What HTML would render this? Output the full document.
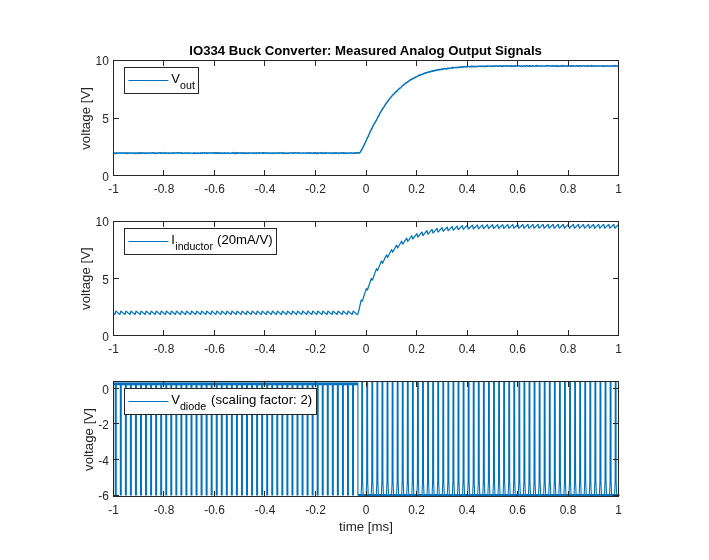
<!DOCTYPE html>
<html><head><meta charset="utf-8"><title>IO334 Buck Converter: Measured Analog Output Signals</title>
<style>html,body{margin:0;padding:0;background:#fff;}svg{display:block;}</style></head>
<body>
<svg width="709" height="560" viewBox="0 0 709 560" font-family="'Liberation Sans', sans-serif">
<rect x="0" y="0" width="709" height="560" fill="#ffffff"/>
<path d="M113.50 152.70 L113.86 153.55 L114.22 153.00 L114.58 153.18 L114.94 153.16 L115.30 153.11 L115.67 153.45 L116.03 153.12 L116.39 153.23 L116.75 152.46 L117.11 153.03 L117.47 153.14 L117.83 153.13 L118.19 153.20 L118.55 153.27 L118.91 153.15 L119.28 152.99 L119.64 153.12 L120.00 152.90 L120.36 153.11 L120.72 153.07 L121.08 152.79 L121.44 152.97 L121.80 153.17 L122.16 153.11 L122.52 152.98 L122.89 152.72 L123.25 153.12 L123.61 153.12 L123.97 152.89 L124.33 153.24 L124.69 153.13 L125.05 152.91 L125.41 152.97 L125.77 153.06 L126.13 152.95 L126.49 153.60 L126.86 152.89 L127.22 153.25 L127.58 153.38 L127.94 153.02 L128.30 152.95 L128.66 153.16 L129.02 153.27 L129.38 153.07 L129.74 153.08 L130.10 152.82 L130.47 152.94 L130.83 153.04 L131.19 152.87 L131.55 153.11 L131.91 153.25 L132.27 152.97 L132.63 152.97 L132.99 153.11 L133.35 153.22 L133.71 153.03 L134.08 153.53 L134.44 152.95 L134.80 152.98 L135.16 153.38 L135.52 153.06 L135.88 153.25 L136.24 152.94 L136.60 153.45 L136.96 153.24 L137.32 152.94 L137.69 152.86 L138.05 153.47 L138.41 153.17 L138.77 153.01 L139.13 153.19 L139.49 152.78 L139.85 153.29 L140.21 153.01 L140.57 153.27 L140.93 152.82 L141.29 153.08 L141.66 153.14 L142.02 153.39 L142.38 152.77 L142.74 152.94 L143.10 152.94 L143.46 152.87 L143.82 153.01 L144.18 153.19 L144.54 153.22 L144.90 153.22 L145.27 152.82 L145.63 153.34 L145.99 153.18 L146.35 153.13 L146.71 153.03 L147.07 152.97 L147.43 153.30 L147.79 153.39 L148.15 153.08 L148.51 152.85 L148.88 152.94 L149.24 153.04 L149.60 153.13 L149.96 153.02 L150.32 153.12 L150.68 152.92 L151.04 153.22 L151.40 153.05 L151.76 153.10 L152.12 152.98 L152.48 153.03 L152.85 152.61 L153.21 152.80 L153.57 152.80 L153.93 153.45 L154.29 153.14 L154.65 153.19 L155.01 152.98 L155.37 153.49 L155.73 152.86 L156.09 152.88 L156.46 153.31 L156.82 153.26 L157.18 153.22 L157.54 153.07 L157.90 152.96 L158.26 152.70 L158.62 153.11 L158.98 152.93 L159.34 153.05 L159.70 152.75 L160.07 152.94 L160.43 152.82 L160.79 153.27 L161.15 153.11 L161.51 153.22 L161.87 152.80 L162.23 152.95 L162.59 153.13 L162.95 153.16 L163.31 152.99 L163.68 153.20 L164.04 153.25 L164.40 152.99 L164.76 152.62 L165.12 153.12 L165.48 153.18 L165.84 153.29 L166.20 153.32 L166.56 152.98 L166.92 152.92 L167.28 153.07 L167.65 153.01 L168.01 153.05 L168.37 153.05 L168.73 153.36 L169.09 153.16 L169.45 153.05 L169.81 153.22 L170.17 153.16 L170.53 153.23 L170.89 153.14 L171.26 152.92 L171.62 153.15 L171.98 153.10 L172.34 152.93 L172.70 152.96 L173.06 152.76 L173.42 153.46 L173.78 152.92 L174.14 153.16 L174.50 153.05 L174.87 152.92 L175.23 152.88 L175.59 152.88 L175.95 153.05 L176.31 152.78 L176.67 153.13 L177.03 153.10 L177.39 152.93 L177.75 153.18 L178.11 152.68 L178.47 152.89 L178.84 152.67 L179.20 153.08 L179.56 153.15 L179.92 153.04 L180.28 152.94 L180.64 153.18 L181.00 153.01 L181.36 153.08 L181.72 152.78 L182.08 153.20 L182.45 152.88 L182.81 153.19 L183.17 153.25 L183.53 153.21 L183.89 153.29 L184.25 153.05 L184.61 152.89 L184.97 153.04 L185.33 152.96 L185.69 152.77 L186.06 153.03 L186.42 153.04 L186.78 153.13 L187.14 153.37 L187.50 152.94 L187.86 153.40 L188.22 152.95 L188.58 153.08 L188.94 152.87 L189.30 153.09 L189.67 153.23 L190.03 153.01 L190.39 153.18 L190.75 153.11 L191.11 153.07 L191.47 153.10 L191.83 153.11 L192.19 153.23 L192.55 153.11 L192.91 153.47 L193.27 153.10 L193.64 153.30 L194.00 152.87 L194.36 152.84 L194.72 153.43 L195.08 153.05 L195.44 153.10 L195.80 153.27 L196.16 152.98 L196.52 153.16 L196.88 153.40 L197.25 153.12 L197.61 153.10 L197.97 153.06 L198.33 153.30 L198.69 152.96 L199.05 152.94 L199.41 153.29 L199.77 153.20 L200.13 153.09 L200.49 153.18 L200.86 152.75 L201.22 153.04 L201.58 153.26 L201.94 153.22 L202.30 153.09 L202.66 152.65 L203.02 153.11 L203.38 153.05 L203.74 152.98 L204.10 153.08 L204.46 152.66 L204.83 153.17 L205.19 152.94 L205.55 153.05 L205.91 152.96 L206.27 153.29 L206.63 152.75 L206.99 153.10 L207.35 153.07 L207.71 153.25 L208.07 153.21 L208.44 152.97 L208.80 152.89 L209.16 152.94 L209.52 152.85 L209.88 152.94 L210.24 153.07 L210.60 152.92 L210.96 152.97 L211.32 153.09 L211.68 152.94 L212.05 152.84 L212.41 153.03 L212.77 153.14 L213.13 152.94 L213.49 152.73 L213.85 153.11 L214.21 153.09 L214.57 153.10 L214.93 152.85 L215.29 153.41 L215.66 153.01 L216.02 152.86 L216.38 153.22 L216.74 152.80 L217.10 152.98 L217.46 153.18 L217.82 153.04 L218.18 153.36 L218.54 153.18 L218.90 152.74 L219.26 153.24 L219.63 152.74 L219.99 153.09 L220.35 152.89 L220.71 153.07 L221.07 153.49 L221.43 153.18 L221.79 153.04 L222.15 153.29 L222.51 153.32 L222.87 153.01 L223.24 153.19 L223.60 153.39 L223.96 153.20 L224.32 152.92 L224.68 153.16 L225.04 152.90 L225.40 152.79 L225.76 153.07 L226.12 153.28 L226.48 153.31 L226.85 153.08 L227.21 152.91 L227.57 153.03 L227.93 152.97 L228.29 153.16 L228.65 153.02 L229.01 153.16 L229.37 153.13 L229.73 153.31 L230.09 153.36 L230.45 153.16 L230.82 153.28 L231.18 153.25 L231.54 152.95 L231.90 153.09 L232.26 152.54 L232.62 152.90 L232.98 153.19 L233.34 152.93 L233.70 153.01 L234.06 153.20 L234.43 152.87 L234.79 153.22 L235.15 153.64 L235.51 152.93 L235.87 153.19 L236.23 152.80 L236.59 153.19 L236.95 153.29 L237.31 152.79 L237.67 153.27 L238.04 153.04 L238.40 152.81 L238.76 153.05 L239.12 153.09 L239.48 153.06 L239.84 152.92 L240.20 153.22 L240.56 152.96 L240.92 152.97 L241.28 152.65 L241.65 153.14 L242.01 153.24 L242.37 152.94 L242.73 153.15 L243.09 153.02 L243.45 153.05 L243.81 152.86 L244.17 153.20 L244.53 153.09 L244.89 153.54 L245.25 153.24 L245.62 152.79 L245.98 153.20 L246.34 153.20 L246.70 153.30 L247.06 152.97 L247.42 153.04 L247.78 153.29 L248.14 152.95 L248.50 153.03 L248.86 152.94 L249.23 153.19 L249.59 152.76 L249.95 153.00 L250.31 153.10 L250.67 153.17 L251.03 153.12 L251.39 152.92 L251.75 153.12 L252.11 152.88 L252.47 152.97 L252.84 152.83 L253.20 152.93 L253.56 153.09 L253.92 153.43 L254.28 153.02 L254.64 152.93 L255.00 153.05 L255.36 152.97 L255.72 153.16 L256.08 153.15 L256.44 153.25 L256.81 152.82 L257.17 153.05 L257.53 153.17 L257.89 153.32 L258.25 153.10 L258.61 152.81 L258.97 152.99 L259.33 153.21 L259.69 152.81 L260.05 152.81 L260.42 152.89 L260.78 152.93 L261.14 152.86 L261.50 152.98 L261.86 152.93 L262.22 153.22 L262.58 152.80 L262.94 153.03 L263.30 152.70 L263.66 153.45 L264.03 152.95 L264.39 152.89 L264.75 153.14 L265.11 152.99 L265.47 152.94 L265.83 152.97 L266.19 153.17 L266.55 153.10 L266.91 152.89 L267.27 152.84 L267.64 153.06 L268.00 153.06 L268.36 153.04 L268.72 152.88 L269.08 153.27 L269.44 153.32 L269.80 153.05 L270.16 153.28 L270.52 153.18 L270.88 153.06 L271.24 152.99 L271.61 153.27 L271.97 152.93 L272.33 153.40 L272.69 152.97 L273.05 153.37 L273.41 153.31 L273.77 152.96 L274.13 153.15 L274.49 153.22 L274.85 153.16 L275.22 152.99 L275.58 153.08 L275.94 153.08 L276.30 152.88 L276.66 153.21 L277.02 153.16 L277.38 153.17 L277.74 152.86 L278.10 152.89 L278.46 152.84 L278.83 153.08 L279.19 153.10 L279.55 152.92 L279.91 153.15 L280.27 152.92 L280.63 152.94 L280.99 153.20 L281.35 153.09 L281.71 153.10 L282.07 152.76 L282.43 152.60 L282.80 153.09 L283.16 153.07 L283.52 153.49 L283.88 153.04 L284.24 153.08 L284.60 153.27 L284.96 152.93 L285.32 153.36 L285.68 153.11 L286.04 153.05 L286.41 153.30 L286.77 152.92 L287.13 152.88 L287.49 153.33 L287.85 153.33 L288.21 152.96 L288.57 153.08 L288.93 153.30 L289.29 153.13 L289.65 153.09 L290.02 153.10 L290.38 152.92 L290.74 153.00 L291.10 152.75 L291.46 152.82 L291.82 152.95 L292.18 152.88 L292.54 152.83 L292.90 152.95 L293.26 153.30 L293.63 152.92 L293.99 153.06 L294.35 152.78 L294.71 153.06 L295.07 152.98 L295.43 153.01 L295.79 152.77 L296.15 153.04 L296.51 153.12 L296.87 153.02 L297.23 153.16 L297.60 153.05 L297.96 153.08 L298.32 153.03 L298.68 152.72 L299.04 153.15 L299.40 153.07 L299.76 153.11 L300.12 152.95 L300.48 153.29 L300.84 153.20 L301.21 153.08 L301.57 152.97 L301.93 153.08 L302.29 153.17 L302.65 153.23 L303.01 152.98 L303.37 152.81 L303.73 153.02 L304.09 153.04 L304.45 152.99 L304.82 153.25 L305.18 153.13 L305.54 153.12 L305.90 153.02 L306.26 153.08 L306.62 153.30 L306.98 152.87 L307.34 152.76 L307.70 153.12 L308.06 153.00 L308.42 153.03 L308.79 152.93 L309.15 153.35 L309.51 152.78 L309.87 153.16 L310.23 152.84 L310.59 153.06 L310.95 153.15 L311.31 153.10 L311.67 152.91 L312.03 153.23 L312.40 153.14 L312.76 153.16 L313.12 153.39 L313.48 152.84 L313.84 152.97 L314.20 153.08 L314.56 152.86 L314.92 153.25 L315.28 153.09 L315.64 152.76 L316.01 152.89 L316.37 153.48 L316.73 153.69 L317.09 153.27 L317.45 152.88 L317.81 153.16 L318.17 153.12 L318.53 152.96 L318.89 153.24 L319.25 153.04 L319.62 152.93 L319.98 152.99 L320.34 153.00 L320.70 153.19 L321.06 152.98 L321.42 153.15 L321.78 152.83 L322.14 152.60 L322.50 153.21 L322.86 153.48 L323.22 153.15 L323.59 153.01 L323.95 152.88 L324.31 152.88 L324.67 153.22 L325.03 153.22 L325.39 152.84 L325.75 153.28 L326.11 152.87 L326.47 153.12 L326.83 152.93 L327.20 152.95 L327.56 152.93 L327.92 152.92 L328.28 153.26 L328.64 153.02 L329.00 153.07 L329.36 153.02 L329.72 152.85 L330.08 153.12 L330.44 153.21 L330.81 153.21 L331.17 153.13 L331.53 152.94 L331.89 153.22 L332.25 152.86 L332.61 153.02 L332.97 153.12 L333.33 153.32 L333.69 153.03 L334.05 152.95 L334.41 153.40 L334.78 152.86 L335.14 152.77 L335.50 153.01 L335.86 152.98 L336.22 152.63 L336.58 152.85 L336.94 153.24 L337.30 153.08 L337.66 153.10 L338.02 153.10 L338.39 153.51 L338.75 152.94 L339.11 153.19 L339.47 153.04 L339.83 153.10 L340.19 152.91 L340.55 153.13 L340.91 153.22 L341.27 152.98 L341.63 152.82 L342.00 153.13 L342.36 152.82 L342.72 153.03 L343.08 153.17 L343.44 152.79 L343.80 153.23 L344.16 152.89 L344.52 153.17 L344.88 152.99 L345.24 153.30 L345.61 153.23 L345.97 152.88 L346.33 153.04 L346.69 153.07 L347.05 153.16 L347.41 152.99 L347.77 153.33 L348.13 153.28 L348.49 153.10 L348.85 153.23 L349.21 153.20 L349.58 153.09 L349.94 153.10 L350.30 153.12 L350.66 152.77 L351.02 152.89 L351.38 152.85 L351.74 153.08 L352.10 153.17 L352.46 153.34 L352.82 153.14 L353.19 153.46 L353.55 153.18 L353.91 152.93 L354.27 152.78 L354.63 152.90 L354.99 153.23 L355.35 152.98 L355.71 153.22 L356.07 152.92 L356.43 153.10 L356.80 152.92 L357.16 152.60 L357.52 152.91 L357.88 152.65 L358.24 153.04 L358.60 153.14 L358.96 152.83 L359.32 152.74 L359.68 152.91 L360.04 152.33 L360.40 152.02 L360.77 151.18 L361.13 150.42 L361.49 150.03 L361.85 149.51 L362.21 149.02 L362.57 148.02 L362.93 147.26 L363.29 146.61 L363.65 145.95 L364.01 145.50 L364.38 144.18 L364.74 143.74 L365.10 142.97 L365.46 142.01 L365.82 141.75 L366.18 140.56 L366.54 139.77 L366.90 138.88 L367.26 137.92 L367.62 137.30 L367.99 136.94 L368.35 135.87 L368.71 134.97 L369.07 134.18 L369.43 133.65 L369.79 132.92 L370.15 131.73 L370.51 130.99 L370.87 130.29 L371.23 129.85 L371.60 128.48 L371.96 128.62 L372.32 127.46 L372.68 126.32 L373.04 126.06 L373.40 125.32 L373.76 124.93 L374.12 123.81 L374.48 123.65 L374.84 122.72 L375.20 122.10 L375.57 121.68 L375.93 120.67 L376.29 120.45 L376.65 119.66 L377.01 118.87 L377.37 118.27 L377.73 117.43 L378.09 116.66 L378.45 116.20 L378.81 115.55 L379.18 114.86 L379.54 114.16 L379.90 113.27 L380.26 112.80 L380.62 112.03 L380.98 111.49 L381.34 111.01 L381.70 110.10 L382.06 109.86 L382.42 109.08 L382.79 108.24 L383.15 108.14 L383.51 107.39 L383.87 107.12 L384.23 106.38 L384.59 106.02 L384.95 105.28 L385.31 104.78 L385.67 104.13 L386.03 103.35 L386.39 103.08 L386.76 102.50 L387.12 102.13 L387.48 101.66 L387.84 101.27 L388.20 100.96 L388.56 100.12 L388.92 99.35 L389.28 99.08 L389.64 98.79 L390.00 97.93 L390.37 97.85 L390.73 97.43 L391.09 97.10 L391.45 96.63 L391.81 96.07 L392.17 95.25 L392.53 95.26 L392.89 95.03 L393.25 94.57 L393.61 94.13 L393.98 94.05 L394.34 93.35 L394.70 92.90 L395.06 92.62 L395.42 92.23 L395.78 92.24 L396.14 91.97 L396.50 91.08 L396.86 90.78 L397.22 90.92 L397.59 90.25 L397.95 89.94 L398.31 89.50 L398.67 89.22 L399.03 89.01 L399.39 88.54 L399.75 88.21 L400.11 87.92 L400.47 87.92 L400.83 87.80 L401.19 87.08 L401.56 86.92 L401.92 86.26 L402.28 85.87 L402.64 85.65 L403.00 85.47 L403.36 85.09 L403.72 84.59 L404.08 84.65 L404.44 84.06 L404.80 83.81 L405.17 83.61 L405.53 83.11 L405.89 83.24 L406.25 82.66 L406.61 82.74 L406.97 82.45 L407.33 82.25 L407.69 81.73 L408.05 81.74 L408.41 81.32 L408.78 81.30 L409.14 80.66 L409.50 80.28 L409.86 80.35 L410.22 79.86 L410.58 79.83 L410.94 79.31 L411.30 79.47 L411.66 79.56 L412.02 78.78 L412.38 78.87 L412.75 78.83 L413.11 78.55 L413.47 78.53 L413.83 78.06 L414.19 78.03 L414.55 77.36 L414.91 77.32 L415.27 77.56 L415.63 77.35 L415.99 77.00 L416.36 77.07 L416.72 76.57 L417.08 76.38 L417.44 76.35 L417.80 76.14 L418.16 75.78 L418.52 75.45 L418.88 75.28 L419.24 75.39 L419.60 75.08 L419.97 75.22 L420.33 74.86 L420.69 74.97 L421.05 74.51 L421.41 74.73 L421.77 74.54 L422.13 74.22 L422.49 73.98 L422.85 74.21 L423.21 73.92 L423.58 73.66 L423.94 73.52 L424.30 73.59 L424.66 73.30 L425.02 73.24 L425.38 72.82 L425.74 72.86 L426.10 73.09 L426.46 73.14 L426.82 72.60 L427.18 72.29 L427.55 72.36 L427.91 72.13 L428.27 72.27 L428.63 72.33 L428.99 71.83 L429.35 71.85 L429.71 71.64 L430.07 71.92 L430.43 71.54 L430.79 71.59 L431.16 71.24 L431.52 71.40 L431.88 71.31 L432.24 71.22 L432.60 70.80 L432.96 70.94 L433.32 71.00 L433.68 70.97 L434.04 70.90 L434.40 70.36 L434.77 70.88 L435.13 70.63 L435.49 70.28 L435.85 70.11 L436.21 70.28 L436.57 70.04 L436.93 69.98 L437.29 69.87 L437.65 69.97 L438.01 69.61 L438.37 69.81 L438.74 69.50 L439.10 69.92 L439.46 69.48 L439.82 69.82 L440.18 69.80 L440.54 69.37 L440.90 69.56 L441.26 69.26 L441.62 69.48 L441.98 68.94 L442.35 69.17 L442.71 69.33 L443.07 69.03 L443.43 68.85 L443.79 69.10 L444.15 68.81 L444.51 68.48 L444.87 68.64 L445.23 68.76 L445.59 68.81 L445.96 68.55 L446.32 68.89 L446.68 69.12 L447.04 68.64 L447.40 68.67 L447.76 68.10 L448.12 68.35 L448.48 68.51 L448.84 68.50 L449.20 68.15 L449.57 68.36 L449.93 68.27 L450.29 68.14 L450.65 68.06 L451.01 68.02 L451.37 67.98 L451.73 67.72 L452.09 67.61 L452.45 68.19 L452.81 67.37 L453.17 67.78 L453.54 67.54 L453.90 67.87 L454.26 67.64 L454.62 67.62 L454.98 67.61 L455.34 67.44 L455.70 67.45 L456.06 67.72 L456.42 67.52 L456.78 67.33 L457.15 67.31 L457.51 67.47 L457.87 67.43 L458.23 67.37 L458.59 67.52 L458.95 67.52 L459.31 66.96 L459.67 67.29 L460.03 67.17 L460.39 67.30 L460.76 66.90 L461.12 66.78 L461.48 67.12 L461.84 66.96 L462.20 67.16 L462.56 66.67 L462.92 66.80 L463.28 67.10 L463.64 66.69 L464.00 66.83 L464.36 66.80 L464.73 66.79 L465.09 66.95 L465.45 66.91 L465.81 66.67 L466.17 66.78 L466.53 66.93 L466.89 66.36 L467.25 66.75 L467.61 66.80 L467.97 66.81 L468.34 66.54 L468.70 66.48 L469.06 66.60 L469.42 66.47 L469.78 66.89 L470.14 66.67 L470.50 66.67 L470.86 66.57 L471.22 66.47 L471.58 66.92 L471.95 65.96 L472.31 66.68 L472.67 66.45 L473.03 66.35 L473.39 66.34 L473.75 66.44 L474.11 67.01 L474.47 66.66 L474.83 66.31 L475.19 66.61 L475.56 66.63 L475.92 66.86 L476.28 66.19 L476.64 66.31 L477.00 66.56 L477.36 66.42 L477.72 66.40 L478.08 66.58 L478.44 66.42 L478.80 66.32 L479.16 66.25 L479.53 66.12 L479.89 66.34 L480.25 66.42 L480.61 66.25 L480.97 66.44 L481.33 66.55 L481.69 66.10 L482.05 66.37 L482.41 66.27 L482.77 66.17 L483.14 66.48 L483.50 66.16 L483.86 66.18 L484.22 66.28 L484.58 66.18 L484.94 66.39 L485.30 66.65 L485.66 66.28 L486.02 66.39 L486.38 66.06 L486.75 66.16 L487.11 66.30 L487.47 66.19 L487.83 65.94 L488.19 65.98 L488.55 66.11 L488.91 66.10 L489.27 66.22 L489.63 66.19 L489.99 66.05 L490.35 66.17 L490.72 66.09 L491.08 66.34 L491.44 66.44 L491.80 66.44 L492.16 66.20 L492.52 65.87 L492.88 65.89 L493.24 66.29 L493.60 66.39 L493.96 65.95 L494.33 66.01 L494.69 66.34 L495.05 65.89 L495.41 66.05 L495.77 65.83 L496.13 66.01 L496.49 65.90 L496.85 66.00 L497.21 66.23 L497.57 66.10 L497.94 66.18 L498.30 65.90 L498.66 66.23 L499.02 66.32 L499.38 65.91 L499.74 65.83 L500.10 65.77 L500.46 65.83 L500.82 66.31 L501.18 66.16 L501.55 66.13 L501.91 66.03 L502.27 66.42 L502.63 66.02 L502.99 65.97 L503.35 66.19 L503.71 66.00 L504.07 65.80 L504.43 66.01 L504.79 65.82 L505.15 65.83 L505.52 65.94 L505.88 65.95 L506.24 66.09 L506.60 65.79 L506.96 66.10 L507.32 66.15 L507.68 65.89 L508.04 66.15 L508.40 65.94 L508.76 65.82 L509.13 66.00 L509.49 66.00 L509.85 65.85 L510.21 65.88 L510.57 66.30 L510.93 66.26 L511.29 65.77 L511.65 65.95 L512.01 66.40 L512.37 66.27 L512.74 66.01 L513.10 66.20 L513.46 65.93 L513.82 66.00 L514.18 65.93 L514.54 66.23 L514.90 65.90 L515.26 65.66 L515.62 66.16 L515.98 65.77 L516.34 65.84 L516.71 65.90 L517.07 66.03 L517.43 66.23 L517.79 66.18 L518.15 65.88 L518.51 65.84 L518.87 65.79 L519.23 65.84 L519.59 65.85 L519.95 66.10 L520.32 66.24 L520.68 65.98 L521.04 65.92 L521.40 66.00 L521.76 66.30 L522.12 66.11 L522.48 66.29 L522.84 65.99 L523.20 66.21 L523.56 66.05 L523.93 65.96 L524.29 65.99 L524.65 65.76 L525.01 66.22 L525.37 66.42 L525.73 65.84 L526.09 65.76 L526.45 65.75 L526.81 65.96 L527.17 65.92 L527.54 65.99 L527.90 66.25 L528.26 66.12 L528.62 65.92 L528.98 66.12 L529.34 65.66 L529.70 66.30 L530.06 66.09 L530.42 65.81 L530.78 66.13 L531.14 66.22 L531.51 66.26 L531.87 66.15 L532.23 65.74 L532.59 65.94 L532.95 65.92 L533.31 66.11 L533.67 65.86 L534.03 65.99 L534.39 66.18 L534.75 66.10 L535.12 65.98 L535.48 65.80 L535.84 66.02 L536.20 65.92 L536.56 65.64 L536.92 66.16 L537.28 66.24 L537.64 65.83 L538.00 65.93 L538.36 66.03 L538.73 65.97 L539.09 66.07 L539.45 65.92 L539.81 66.08 L540.17 65.87 L540.53 66.23 L540.89 66.16 L541.25 65.99 L541.61 66.10 L541.97 65.89 L542.33 66.02 L542.70 66.11 L543.06 65.97 L543.42 66.11 L543.78 66.30 L544.14 66.22 L544.50 66.16 L544.86 66.10 L545.22 65.99 L545.58 65.85 L545.94 65.91 L546.31 65.69 L546.67 65.78 L547.03 66.05 L547.39 65.71 L547.75 65.79 L548.11 66.10 L548.47 65.95 L548.83 65.81 L549.19 65.97 L549.55 65.82 L549.92 65.94 L550.28 65.88 L550.64 66.07 L551.00 65.94 L551.36 66.08 L551.72 65.89 L552.08 66.32 L552.44 65.95 L552.80 65.78 L553.16 65.90 L553.53 66.02 L553.89 65.91 L554.25 66.17 L554.61 66.16 L554.97 66.08 L555.33 66.04 L555.69 65.83 L556.05 66.18 L556.41 65.83 L556.77 66.30 L557.13 66.16 L557.50 66.02 L557.86 65.80 L558.22 66.12 L558.58 66.41 L558.94 65.93 L559.30 66.02 L559.66 66.21 L560.02 66.20 L560.38 66.14 L560.74 65.99 L561.11 65.89 L561.47 66.28 L561.83 65.59 L562.19 66.02 L562.55 66.08 L562.91 65.89 L563.27 65.99 L563.63 65.58 L563.99 65.81 L564.35 66.08 L564.72 66.08 L565.08 66.10 L565.44 66.07 L565.80 65.89 L566.16 66.13 L566.52 65.72 L566.88 66.03 L567.24 66.04 L567.60 65.84 L567.96 66.38 L568.32 66.18 L568.69 65.90 L569.05 66.01 L569.41 66.01 L569.77 65.94 L570.13 66.12 L570.49 66.04 L570.85 66.26 L571.21 66.36 L571.57 65.78 L571.93 66.18 L572.30 66.14 L572.66 65.76 L573.02 65.82 L573.38 66.11 L573.74 66.11 L574.10 66.03 L574.46 66.19 L574.82 65.91 L575.18 65.99 L575.54 65.99 L575.91 65.87 L576.27 65.88 L576.63 65.67 L576.99 65.73 L577.35 66.33 L577.71 65.85 L578.07 66.22 L578.43 66.28 L578.79 65.88 L579.15 66.14 L579.52 66.07 L579.88 65.82 L580.24 66.13 L580.60 66.18 L580.96 65.95 L581.32 65.79 L581.68 65.92 L582.04 66.30 L582.40 66.13 L582.76 66.04 L583.12 65.66 L583.49 65.85 L583.85 65.86 L584.21 65.79 L584.57 66.07 L584.93 65.92 L585.29 65.92 L585.65 66.19 L586.01 66.02 L586.37 65.91 L586.73 66.21 L587.10 65.86 L587.46 65.87 L587.82 65.82 L588.18 66.16 L588.54 65.99 L588.90 65.75 L589.26 65.87 L589.62 66.16 L589.98 65.97 L590.34 65.75 L590.71 66.03 L591.07 65.94 L591.43 65.54 L591.79 66.02 L592.15 66.03 L592.51 66.20 L592.87 66.13 L593.23 65.74 L593.59 66.04 L593.95 66.23 L594.31 66.19 L594.68 66.01 L595.04 65.87 L595.40 66.15 L595.76 65.88 L596.12 66.10 L596.48 65.95 L596.84 65.92 L597.20 65.90 L597.56 66.09 L597.92 66.05 L598.29 65.92 L598.65 66.25 L599.01 65.98 L599.37 65.92 L599.73 65.83 L600.09 66.02 L600.45 66.05 L600.81 65.99 L601.17 66.15 L601.53 66.06 L601.90 65.94 L602.26 65.97 L602.62 66.21 L602.98 66.08 L603.34 66.41 L603.70 65.87 L604.06 66.12 L604.42 65.98 L604.78 66.22 L605.14 66.04 L605.51 65.94 L605.87 65.84 L606.23 66.27 L606.59 65.87 L606.95 66.05 L607.31 66.16 L607.67 65.93 L608.03 66.08 L608.39 66.08 L608.75 66.15 L609.11 65.98 L609.48 66.02 L609.84 66.06 L610.20 66.20 L610.56 66.12 L610.92 65.95 L611.28 65.79 L611.64 66.03 L612.00 65.76 L612.36 66.03 L612.72 66.22 L613.09 65.91 L613.45 66.20 L613.81 65.95 L614.17 65.83 L614.53 66.08 L614.89 66.04 L615.25 65.57 L615.61 65.98 L615.97 65.97 L616.33 65.88 L616.70 66.04 L617.06 66.04 L617.42 65.95 L617.78 66.46 L618.14 65.76 L618.50 66.22" fill="none" stroke="#0072BD" stroke-width="1.45" stroke-linejoin="round"/>
<path d="M163.50 175.5 v-5.5 M163.50 60.5 v5.5" stroke="#262626" stroke-width="1" fill="none"/>
<path d="M214.50 175.5 v-5.5 M214.50 60.5 v5.5" stroke="#262626" stroke-width="1" fill="none"/>
<path d="M264.50 175.5 v-5.5 M264.50 60.5 v5.5" stroke="#262626" stroke-width="1" fill="none"/>
<path d="M315.50 175.5 v-5.5 M315.50 60.5 v5.5" stroke="#262626" stroke-width="1" fill="none"/>
<path d="M366.50 175.5 v-5.5 M366.50 60.5 v5.5" stroke="#262626" stroke-width="1" fill="none"/>
<path d="M416.50 175.5 v-5.5 M416.50 60.5 v5.5" stroke="#262626" stroke-width="1" fill="none"/>
<path d="M467.50 175.5 v-5.5 M467.50 60.5 v5.5" stroke="#262626" stroke-width="1" fill="none"/>
<path d="M517.50 175.5 v-5.5 M517.50 60.5 v5.5" stroke="#262626" stroke-width="1" fill="none"/>
<path d="M568.50 175.5 v-5.5 M568.50 60.5 v5.5" stroke="#262626" stroke-width="1" fill="none"/>
<path d="M113.5 118.50 h5.5 M618.5 118.50 h-5.5" stroke="#262626" stroke-width="1" fill="none"/>
<rect x="113.5" y="60.5" width="505.0" height="115.0" fill="none" stroke="#262626" stroke-width="1"/>
<text x="113.50" y="192.60" font-size="11.9" fill="#262626" text-anchor="middle">-1</text>
<text x="164.00" y="192.60" font-size="11.9" fill="#262626" text-anchor="middle">-0.8</text>
<text x="214.50" y="192.60" font-size="11.9" fill="#262626" text-anchor="middle">-0.6</text>
<text x="265.00" y="192.60" font-size="11.9" fill="#262626" text-anchor="middle">-0.4</text>
<text x="315.50" y="192.60" font-size="11.9" fill="#262626" text-anchor="middle">-0.2</text>
<text x="366.00" y="192.60" font-size="11.9" fill="#262626" text-anchor="middle">0</text>
<text x="416.50" y="192.60" font-size="11.9" fill="#262626" text-anchor="middle">0.2</text>
<text x="467.00" y="192.60" font-size="11.9" fill="#262626" text-anchor="middle">0.4</text>
<text x="517.50" y="192.60" font-size="11.9" fill="#262626" text-anchor="middle">0.6</text>
<text x="568.00" y="192.60" font-size="11.9" fill="#262626" text-anchor="middle">0.8</text>
<text x="618.50" y="192.60" font-size="11.9" fill="#262626" text-anchor="middle">1</text>
<text x="108.8" y="180.90" font-size="11.9" fill="#262626" text-anchor="end">0</text>
<text x="108.8" y="123.40" font-size="11.9" fill="#262626" text-anchor="end">5</text>
<text x="108.8" y="64.60" font-size="11.9" fill="#262626" text-anchor="end">10</text>
<text transform="translate(90.0 118.4) rotate(-90)" font-size="13.3" fill="#262626" text-anchor="middle">voltage [V]</text>
<path d="M113.50 313.39 L113.63 313.50 L113.75 313.60 L113.88 313.71 L114.00 313.82 L114.13 313.93 L114.26 314.03 L114.38 314.14 L114.51 314.25 L114.64 314.35 L114.76 314.46 L114.89 314.35 L115.02 313.93 L115.14 313.50 L115.27 313.07 L115.39 312.64 L115.52 312.22 L115.65 311.79 L115.77 311.36 L115.90 311.15 L116.03 311.25 L116.15 311.36 L116.28 311.47 L116.40 311.57 L116.53 311.68 L116.66 311.79 L116.78 311.89 L116.91 312.00 L117.03 312.11 L117.16 312.22 L117.29 312.32 L117.41 312.43 L117.54 312.54 L117.67 312.64 L117.79 312.75 L117.92 312.86 L118.05 312.96 L118.17 313.07 L118.30 313.18 L118.42 313.28 L118.55 313.39 L118.68 313.50 L118.80 313.60 L118.93 313.71 L119.06 313.82 L119.18 313.93 L119.31 314.03 L119.43 314.14 L119.56 314.25 L119.69 314.35 L119.81 314.46 L119.94 314.35 L120.07 313.93 L120.19 313.50 L120.32 313.07 L120.44 312.64 L120.57 312.22 L120.70 311.79 L120.82 311.36 L120.95 311.15 L121.08 311.25 L121.20 311.36 L121.33 311.47 L121.45 311.57 L121.58 311.68 L121.71 311.79 L121.83 311.89 L121.96 312.00 L122.09 312.11 L122.21 312.22 L122.34 312.32 L122.46 312.43 L122.59 312.54 L122.72 312.64 L122.84 312.75 L122.97 312.86 L123.10 312.96 L123.22 313.07 L123.35 313.18 L123.47 313.28 L123.60 313.39 L123.73 313.50 L123.85 313.60 L123.98 313.71 L124.11 313.82 L124.23 313.93 L124.36 314.03 L124.48 314.14 L124.61 314.25 L124.74 314.35 L124.86 314.46 L124.99 314.35 L125.12 313.93 L125.24 313.50 L125.37 313.07 L125.49 312.64 L125.62 312.22 L125.75 311.79 L125.87 311.36 L126.00 311.15 L126.13 311.25 L126.25 311.36 L126.38 311.47 L126.50 311.57 L126.63 311.68 L126.76 311.79 L126.88 311.89 L127.01 312.00 L127.14 312.11 L127.26 312.22 L127.39 312.32 L127.51 312.43 L127.64 312.54 L127.77 312.64 L127.89 312.75 L128.02 312.86 L128.15 312.96 L128.27 313.07 L128.40 313.18 L128.52 313.28 L128.65 313.39 L128.78 313.50 L128.90 313.60 L129.03 313.71 L129.16 313.82 L129.28 313.93 L129.41 314.03 L129.53 314.14 L129.66 314.25 L129.79 314.35 L129.91 314.46 L130.04 314.35 L130.17 313.93 L130.29 313.50 L130.42 313.07 L130.54 312.64 L130.67 312.22 L130.80 311.79 L130.92 311.36 L131.05 311.15 L131.18 311.25 L131.30 311.36 L131.43 311.47 L131.55 311.57 L131.68 311.68 L131.81 311.79 L131.93 311.89 L132.06 312.00 L132.19 312.11 L132.31 312.22 L132.44 312.32 L132.56 312.43 L132.69 312.54 L132.82 312.64 L132.94 312.75 L133.07 312.86 L133.19 312.96 L133.32 313.07 L133.45 313.18 L133.57 313.28 L133.70 313.39 L133.83 313.50 L133.95 313.60 L134.08 313.71 L134.20 313.82 L134.33 313.93 L134.46 314.03 L134.58 314.14 L134.71 314.25 L134.84 314.35 L134.96 314.46 L135.09 314.35 L135.22 313.93 L135.34 313.50 L135.47 313.07 L135.59 312.64 L135.72 312.22 L135.85 311.79 L135.97 311.36 L136.10 311.15 L136.22 311.25 L136.35 311.36 L136.48 311.47 L136.60 311.57 L136.73 311.68 L136.86 311.79 L136.98 311.89 L137.11 312.00 L137.23 312.11 L137.36 312.22 L137.49 312.32 L137.61 312.43 L137.74 312.54 L137.87 312.64 L137.99 312.75 L138.12 312.86 L138.25 312.96 L138.37 313.07 L138.50 313.18 L138.62 313.28 L138.75 313.39 L138.88 313.50 L139.00 313.60 L139.13 313.71 L139.25 313.82 L139.38 313.93 L139.51 314.03 L139.63 314.14 L139.76 314.25 L139.89 314.35 L140.01 314.46 L140.14 314.35 L140.26 313.93 L140.39 313.50 L140.52 313.07 L140.64 312.64 L140.77 312.22 L140.90 311.79 L141.02 311.36 L141.15 311.15 L141.28 311.25 L141.40 311.36 L141.53 311.47 L141.65 311.57 L141.78 311.68 L141.91 311.79 L142.03 311.89 L142.16 312.00 L142.28 312.11 L142.41 312.22 L142.54 312.32 L142.66 312.43 L142.79 312.54 L142.92 312.64 L143.04 312.75 L143.17 312.86 L143.29 312.96 L143.42 313.07 L143.55 313.18 L143.67 313.28 L143.80 313.39 L143.93 313.50 L144.05 313.60 L144.18 313.71 L144.31 313.82 L144.43 313.93 L144.56 314.03 L144.68 314.14 L144.81 314.25 L144.94 314.35 L145.06 314.46 L145.19 314.35 L145.31 313.93 L145.44 313.50 L145.57 313.07 L145.69 312.64 L145.82 312.22 L145.95 311.79 L146.07 311.36 L146.20 311.15 L146.32 311.25 L146.45 311.36 L146.58 311.47 L146.70 311.57 L146.83 311.68 L146.96 311.79 L147.08 311.89 L147.21 312.00 L147.34 312.11 L147.46 312.22 L147.59 312.32 L147.71 312.43 L147.84 312.54 L147.97 312.64 L148.09 312.75 L148.22 312.86 L148.34 312.96 L148.47 313.07 L148.60 313.18 L148.72 313.28 L148.85 313.39 L148.98 313.50 L149.10 313.60 L149.23 313.71 L149.36 313.82 L149.48 313.93 L149.61 314.03 L149.73 314.14 L149.86 314.25 L149.99 314.35 L150.11 314.46 L150.24 314.35 L150.37 313.93 L150.49 313.50 L150.62 313.07 L150.74 312.64 L150.87 312.22 L151.00 311.79 L151.12 311.36 L151.25 311.15 L151.38 311.25 L151.50 311.36 L151.63 311.47 L151.75 311.57 L151.88 311.68 L152.01 311.79 L152.13 311.89 L152.26 312.00 L152.38 312.11 L152.51 312.22 L152.64 312.32 L152.76 312.43 L152.89 312.54 L153.02 312.64 L153.14 312.75 L153.27 312.86 L153.40 312.96 L153.52 313.07 L153.65 313.18 L153.77 313.28 L153.90 313.39 L154.03 313.50 L154.15 313.60 L154.28 313.71 L154.41 313.82 L154.53 313.93 L154.66 314.03 L154.78 314.14 L154.91 314.25 L155.04 314.35 L155.16 314.46 L155.29 314.35 L155.42 313.93 L155.54 313.50 L155.67 313.07 L155.79 312.64 L155.92 312.22 L156.05 311.79 L156.17 311.36 L156.30 311.15 L156.43 311.25 L156.55 311.36 L156.68 311.47 L156.80 311.57 L156.93 311.68 L157.06 311.79 L157.18 311.89 L157.31 312.00 L157.44 312.11 L157.56 312.22 L157.69 312.32 L157.81 312.43 L157.94 312.54 L158.07 312.64 L158.19 312.75 L158.32 312.86 L158.44 312.96 L158.57 313.07 L158.70 313.18 L158.82 313.28 L158.95 313.39 L159.08 313.50 L159.20 313.60 L159.33 313.71 L159.45 313.82 L159.58 313.93 L159.71 314.03 L159.83 314.14 L159.96 314.25 L160.09 314.35 L160.21 314.46 L160.34 314.35 L160.46 313.93 L160.59 313.50 L160.72 313.07 L160.84 312.64 L160.97 312.22 L161.10 311.79 L161.22 311.36 L161.35 311.15 L161.47 311.25 L161.60 311.36 L161.73 311.47 L161.85 311.57 L161.98 311.68 L162.11 311.79 L162.23 311.89 L162.36 312.00 L162.48 312.11 L162.61 312.22 L162.74 312.32 L162.86 312.43 L162.99 312.54 L163.12 312.64 L163.24 312.75 L163.37 312.86 L163.50 312.96 L163.62 313.07 L163.75 313.18 L163.87 313.28 L164.00 313.39 L164.13 313.50 L164.25 313.60 L164.38 313.71 L164.50 313.82 L164.63 313.93 L164.76 314.03 L164.88 314.14 L165.01 314.25 L165.14 314.35 L165.26 314.46 L165.39 314.35 L165.51 313.93 L165.64 313.50 L165.77 313.07 L165.89 312.64 L166.02 312.22 L166.15 311.79 L166.27 311.36 L166.40 311.15 L166.52 311.25 L166.65 311.36 L166.78 311.47 L166.90 311.57 L167.03 311.68 L167.16 311.79 L167.28 311.89 L167.41 312.00 L167.53 312.11 L167.66 312.22 L167.79 312.32 L167.91 312.43 L168.04 312.54 L168.17 312.64 L168.29 312.75 L168.42 312.86 L168.54 312.96 L168.67 313.07 L168.80 313.18 L168.92 313.28 L169.05 313.39 L169.18 313.50 L169.30 313.60 L169.43 313.71 L169.56 313.82 L169.68 313.93 L169.81 314.03 L169.93 314.14 L170.06 314.25 L170.19 314.35 L170.31 314.46 L170.44 314.35 L170.56 313.93 L170.69 313.50 L170.82 313.07 L170.94 312.64 L171.07 312.22 L171.20 311.79 L171.32 311.36 L171.45 311.15 L171.57 311.25 L171.70 311.36 L171.83 311.47 L171.95 311.57 L172.08 311.68 L172.21 311.79 L172.33 311.89 L172.46 312.00 L172.58 312.11 L172.71 312.22 L172.84 312.32 L172.96 312.43 L173.09 312.54 L173.22 312.64 L173.34 312.75 L173.47 312.86 L173.59 312.96 L173.72 313.07 L173.85 313.18 L173.97 313.28 L174.10 313.39 L174.23 313.50 L174.35 313.60 L174.48 313.71 L174.60 313.82 L174.73 313.93 L174.86 314.03 L174.98 314.14 L175.11 314.25 L175.24 314.35 L175.36 314.46 L175.49 314.35 L175.62 313.93 L175.74 313.50 L175.87 313.07 L175.99 312.64 L176.12 312.22 L176.25 311.79 L176.37 311.36 L176.50 311.15 L176.62 311.25 L176.75 311.36 L176.88 311.47 L177.00 311.57 L177.13 311.68 L177.26 311.79 L177.38 311.89 L177.51 312.00 L177.63 312.11 L177.76 312.22 L177.89 312.32 L178.01 312.43 L178.14 312.54 L178.27 312.64 L178.39 312.75 L178.52 312.86 L178.64 312.96 L178.77 313.07 L178.90 313.18 L179.02 313.28 L179.15 313.39 L179.28 313.50 L179.40 313.60 L179.53 313.71 L179.66 313.82 L179.78 313.93 L179.91 314.03 L180.03 314.14 L180.16 314.25 L180.29 314.35 L180.41 314.46 L180.54 314.35 L180.67 313.93 L180.79 313.50 L180.92 313.07 L181.04 312.64 L181.17 312.22 L181.30 311.79 L181.42 311.36 L181.55 311.15 L181.68 311.25 L181.80 311.36 L181.93 311.47 L182.05 311.57 L182.18 311.68 L182.31 311.79 L182.43 311.89 L182.56 312.00 L182.69 312.11 L182.81 312.22 L182.94 312.32 L183.06 312.43 L183.19 312.54 L183.32 312.64 L183.44 312.75 L183.57 312.86 L183.69 312.96 L183.82 313.07 L183.95 313.18 L184.07 313.28 L184.20 313.39 L184.33 313.50 L184.45 313.60 L184.58 313.71 L184.71 313.82 L184.83 313.93 L184.96 314.03 L185.08 314.14 L185.21 314.25 L185.34 314.35 L185.46 314.46 L185.59 314.35 L185.72 313.93 L185.84 313.50 L185.97 313.07 L186.09 312.64 L186.22 312.22 L186.35 311.79 L186.47 311.36 L186.60 311.15 L186.73 311.25 L186.85 311.36 L186.98 311.47 L187.10 311.57 L187.23 311.68 L187.36 311.79 L187.48 311.89 L187.61 312.00 L187.74 312.11 L187.86 312.22 L187.99 312.32 L188.11 312.43 L188.24 312.54 L188.37 312.64 L188.49 312.75 L188.62 312.86 L188.75 312.96 L188.87 313.07 L189.00 313.18 L189.12 313.28 L189.25 313.39 L189.38 313.50 L189.50 313.60 L189.63 313.71 L189.75 313.82 L189.88 313.93 L190.01 314.03 L190.13 314.14 L190.26 314.25 L190.39 314.35 L190.51 314.46 L190.64 314.35 L190.77 313.93 L190.89 313.50 L191.02 313.07 L191.14 312.64 L191.27 312.22 L191.40 311.79 L191.52 311.36 L191.65 311.15 L191.78 311.25 L191.90 311.36 L192.03 311.47 L192.15 311.57 L192.28 311.68 L192.41 311.79 L192.53 311.89 L192.66 312.00 L192.79 312.11 L192.91 312.22 L193.04 312.32 L193.16 312.43 L193.29 312.54 L193.42 312.64 L193.54 312.75 L193.67 312.86 L193.80 312.96 L193.92 313.07 L194.05 313.18 L194.17 313.28 L194.30 313.39 L194.43 313.50 L194.55 313.60 L194.68 313.71 L194.81 313.82 L194.93 313.93 L195.06 314.03 L195.18 314.14 L195.31 314.25 L195.44 314.35 L195.56 314.46 L195.69 314.35 L195.81 313.93 L195.94 313.50 L196.07 313.07 L196.19 312.64 L196.32 312.22 L196.45 311.79 L196.57 311.36 L196.70 311.15 L196.83 311.25 L196.95 311.36 L197.08 311.47 L197.20 311.57 L197.33 311.68 L197.46 311.79 L197.58 311.89 L197.71 312.00 L197.84 312.11 L197.96 312.22 L198.09 312.32 L198.21 312.43 L198.34 312.54 L198.47 312.64 L198.59 312.75 L198.72 312.86 L198.85 312.96 L198.97 313.07 L199.10 313.18 L199.22 313.28 L199.35 313.39 L199.48 313.50 L199.60 313.60 L199.73 313.71 L199.86 313.82 L199.98 313.93 L200.11 314.03 L200.23 314.14 L200.36 314.25 L200.49 314.35 L200.61 314.46 L200.74 314.35 L200.87 313.93 L200.99 313.50 L201.12 313.07 L201.24 312.64 L201.37 312.22 L201.50 311.79 L201.62 311.36 L201.75 311.15 L201.88 311.25 L202.00 311.36 L202.13 311.47 L202.25 311.57 L202.38 311.68 L202.51 311.79 L202.63 311.89 L202.76 312.00 L202.88 312.11 L203.01 312.22 L203.14 312.32 L203.26 312.43 L203.39 312.54 L203.52 312.64 L203.64 312.75 L203.77 312.86 L203.89 312.96 L204.02 313.07 L204.15 313.18 L204.27 313.28 L204.40 313.39 L204.53 313.50 L204.65 313.60 L204.78 313.71 L204.91 313.82 L205.03 313.93 L205.16 314.03 L205.28 314.14 L205.41 314.25 L205.54 314.35 L205.66 314.46 L205.79 314.35 L205.91 313.93 L206.04 313.50 L206.17 313.07 L206.29 312.64 L206.42 312.22 L206.55 311.79 L206.67 311.36 L206.80 311.15 L206.93 311.25 L207.05 311.36 L207.18 311.47 L207.30 311.57 L207.43 311.68 L207.56 311.79 L207.68 311.89 L207.81 312.00 L207.94 312.11 L208.06 312.22 L208.19 312.32 L208.31 312.43 L208.44 312.54 L208.57 312.64 L208.69 312.75 L208.82 312.86 L208.94 312.96 L209.07 313.07 L209.20 313.18 L209.32 313.28 L209.45 313.39 L209.58 313.50 L209.70 313.60 L209.83 313.71 L209.95 313.82 L210.08 313.93 L210.21 314.03 L210.33 314.14 L210.46 314.25 L210.59 314.35 L210.71 314.46 L210.84 314.35 L210.97 313.93 L211.09 313.50 L211.22 313.07 L211.34 312.64 L211.47 312.22 L211.60 311.79 L211.72 311.36 L211.85 311.15 L211.98 311.25 L212.10 311.36 L212.23 311.47 L212.35 311.57 L212.48 311.68 L212.61 311.79 L212.73 311.89 L212.86 312.00 L212.99 312.11 L213.11 312.22 L213.24 312.32 L213.36 312.43 L213.49 312.54 L213.62 312.64 L213.74 312.75 L213.87 312.86 L214.00 312.96 L214.12 313.07 L214.25 313.18 L214.37 313.28 L214.50 313.39 L214.63 313.50 L214.75 313.60 L214.88 313.71 L215.00 313.82 L215.13 313.93 L215.26 314.03 L215.38 314.14 L215.51 314.25 L215.64 314.35 L215.76 314.46 L215.89 314.35 L216.01 313.93 L216.14 313.50 L216.27 313.07 L216.39 312.64 L216.52 312.22 L216.65 311.79 L216.77 311.36 L216.90 311.15 L217.03 311.25 L217.15 311.36 L217.28 311.47 L217.40 311.57 L217.53 311.68 L217.66 311.79 L217.78 311.89 L217.91 312.00 L218.04 312.11 L218.16 312.22 L218.29 312.32 L218.41 312.43 L218.54 312.54 L218.67 312.64 L218.79 312.75 L218.92 312.86 L219.04 312.96 L219.17 313.07 L219.30 313.18 L219.42 313.28 L219.55 313.39 L219.68 313.50 L219.80 313.60 L219.93 313.71 L220.05 313.82 L220.18 313.93 L220.31 314.03 L220.43 314.14 L220.56 314.25 L220.69 314.35 L220.81 314.46 L220.94 314.35 L221.06 313.93 L221.19 313.50 L221.32 313.07 L221.44 312.64 L221.57 312.22 L221.70 311.79 L221.82 311.36 L221.95 311.15 L222.07 311.25 L222.20 311.36 L222.33 311.47 L222.45 311.57 L222.58 311.68 L222.71 311.79 L222.83 311.89 L222.96 312.00 L223.08 312.11 L223.21 312.22 L223.34 312.32 L223.46 312.43 L223.59 312.54 L223.72 312.64 L223.84 312.75 L223.97 312.86 L224.09 312.96 L224.22 313.07 L224.35 313.18 L224.47 313.28 L224.60 313.39 L224.73 313.50 L224.85 313.60 L224.98 313.71 L225.10 313.82 L225.23 313.93 L225.36 314.03 L225.48 314.14 L225.61 314.25 L225.74 314.35 L225.86 314.46 L225.99 314.35 L226.12 313.93 L226.24 313.50 L226.37 313.07 L226.49 312.64 L226.62 312.22 L226.75 311.79 L226.87 311.36 L227.00 311.15 L227.12 311.25 L227.25 311.36 L227.38 311.47 L227.50 311.57 L227.63 311.68 L227.76 311.79 L227.88 311.89 L228.01 312.00 L228.13 312.11 L228.26 312.22 L228.39 312.32 L228.51 312.43 L228.64 312.54 L228.77 312.64 L228.89 312.75 L229.02 312.86 L229.14 312.96 L229.27 313.07 L229.40 313.18 L229.52 313.28 L229.65 313.39 L229.78 313.50 L229.90 313.60 L230.03 313.71 L230.15 313.82 L230.28 313.93 L230.41 314.03 L230.53 314.14 L230.66 314.25 L230.79 314.35 L230.91 314.46 L231.04 314.35 L231.16 313.93 L231.29 313.50 L231.42 313.07 L231.54 312.64 L231.67 312.22 L231.80 311.79 L231.92 311.36 L232.05 311.15 L232.18 311.25 L232.30 311.36 L232.43 311.47 L232.55 311.57 L232.68 311.68 L232.81 311.79 L232.93 311.89 L233.06 312.00 L233.19 312.11 L233.31 312.22 L233.44 312.32 L233.56 312.43 L233.69 312.54 L233.82 312.64 L233.94 312.75 L234.07 312.86 L234.19 312.96 L234.32 313.07 L234.45 313.18 L234.57 313.28 L234.70 313.39 L234.83 313.50 L234.95 313.60 L235.08 313.71 L235.20 313.82 L235.33 313.93 L235.46 314.03 L235.58 314.14 L235.71 314.25 L235.84 314.35 L235.96 314.46 L236.09 314.35 L236.22 313.93 L236.34 313.50 L236.47 313.07 L236.59 312.64 L236.72 312.22 L236.85 311.79 L236.97 311.36 L237.10 311.15 L237.22 311.25 L237.35 311.36 L237.48 311.47 L237.60 311.57 L237.73 311.68 L237.86 311.79 L237.98 311.89 L238.11 312.00 L238.24 312.11 L238.36 312.22 L238.49 312.32 L238.61 312.43 L238.74 312.54 L238.87 312.64 L238.99 312.75 L239.12 312.86 L239.25 312.96 L239.37 313.07 L239.50 313.18 L239.62 313.28 L239.75 313.39 L239.88 313.50 L240.00 313.60 L240.13 313.71 L240.25 313.82 L240.38 313.93 L240.51 314.03 L240.63 314.14 L240.76 314.25 L240.89 314.35 L241.01 314.46 L241.14 314.35 L241.26 313.93 L241.39 313.50 L241.52 313.07 L241.64 312.64 L241.77 312.22 L241.90 311.79 L242.02 311.36 L242.15 311.15 L242.28 311.25 L242.40 311.36 L242.53 311.47 L242.65 311.57 L242.78 311.68 L242.91 311.79 L243.03 311.89 L243.16 312.00 L243.28 312.11 L243.41 312.22 L243.54 312.32 L243.66 312.43 L243.79 312.54 L243.92 312.64 L244.04 312.75 L244.17 312.86 L244.30 312.96 L244.42 313.07 L244.55 313.18 L244.67 313.28 L244.80 313.39 L244.93 313.50 L245.05 313.60 L245.18 313.71 L245.31 313.82 L245.43 313.93 L245.56 314.03 L245.68 314.14 L245.81 314.25 L245.94 314.35 L246.06 314.46 L246.19 314.35 L246.31 313.93 L246.44 313.50 L246.57 313.07 L246.69 312.64 L246.82 312.22 L246.95 311.79 L247.07 311.36 L247.20 311.15 L247.33 311.25 L247.45 311.36 L247.58 311.47 L247.70 311.57 L247.83 311.68 L247.96 311.79 L248.08 311.89 L248.21 312.00 L248.34 312.11 L248.46 312.22 L248.59 312.32 L248.71 312.43 L248.84 312.54 L248.97 312.64 L249.09 312.75 L249.22 312.86 L249.34 312.96 L249.47 313.07 L249.60 313.18 L249.72 313.28 L249.85 313.39 L249.98 313.50 L250.10 313.60 L250.23 313.71 L250.36 313.82 L250.48 313.93 L250.61 314.03 L250.73 314.14 L250.86 314.25 L250.99 314.35 L251.11 314.46 L251.24 314.35 L251.37 313.93 L251.49 313.50 L251.62 313.07 L251.74 312.64 L251.87 312.22 L252.00 311.79 L252.12 311.36 L252.25 311.15 L252.38 311.25 L252.50 311.36 L252.63 311.47 L252.75 311.57 L252.88 311.68 L253.01 311.79 L253.13 311.89 L253.26 312.00 L253.39 312.11 L253.51 312.22 L253.64 312.32 L253.76 312.43 L253.89 312.54 L254.02 312.64 L254.14 312.75 L254.27 312.86 L254.40 312.96 L254.52 313.07 L254.65 313.18 L254.77 313.28 L254.90 313.39 L255.03 313.50 L255.15 313.60 L255.28 313.71 L255.41 313.82 L255.53 313.93 L255.66 314.03 L255.78 314.14 L255.91 314.25 L256.04 314.35 L256.16 314.46 L256.29 314.35 L256.42 313.93 L256.54 313.50 L256.67 313.07 L256.79 312.64 L256.92 312.22 L257.05 311.79 L257.17 311.36 L257.30 311.15 L257.43 311.25 L257.55 311.36 L257.68 311.47 L257.80 311.57 L257.93 311.68 L258.06 311.79 L258.18 311.89 L258.31 312.00 L258.44 312.11 L258.56 312.22 L258.69 312.32 L258.81 312.43 L258.94 312.54 L259.07 312.64 L259.19 312.75 L259.32 312.86 L259.44 312.96 L259.57 313.07 L259.70 313.18 L259.82 313.28 L259.95 313.39 L260.08 313.50 L260.20 313.60 L260.33 313.71 L260.45 313.82 L260.58 313.93 L260.71 314.03 L260.83 314.14 L260.96 314.25 L261.09 314.35 L261.21 314.46 L261.34 314.35 L261.47 313.93 L261.59 313.50 L261.72 313.07 L261.84 312.64 L261.97 312.22 L262.10 311.79 L262.22 311.36 L262.35 311.15 L262.48 311.25 L262.60 311.36 L262.73 311.47 L262.85 311.57 L262.98 311.68 L263.11 311.79 L263.23 311.89 L263.36 312.00 L263.49 312.11 L263.61 312.22 L263.74 312.32 L263.86 312.43 L263.99 312.54 L264.12 312.64 L264.24 312.75 L264.37 312.86 L264.50 312.96 L264.62 313.07 L264.75 313.18 L264.87 313.28 L265.00 313.39 L265.13 313.50 L265.25 313.60 L265.38 313.71 L265.50 313.82 L265.63 313.93 L265.76 314.03 L265.88 314.14 L266.01 314.25 L266.14 314.35 L266.26 314.46 L266.39 314.35 L266.51 313.93 L266.64 313.50 L266.77 313.07 L266.89 312.64 L267.02 312.22 L267.15 311.79 L267.27 311.36 L267.40 311.15 L267.52 311.25 L267.65 311.36 L267.78 311.47 L267.90 311.57 L268.03 311.68 L268.16 311.79 L268.28 311.89 L268.41 312.00 L268.53 312.11 L268.66 312.22 L268.79 312.32 L268.91 312.43 L269.04 312.54 L269.17 312.64 L269.29 312.75 L269.42 312.86 L269.54 312.96 L269.67 313.07 L269.80 313.18 L269.92 313.28 L270.05 313.39 L270.18 313.50 L270.30 313.60 L270.43 313.71 L270.56 313.82 L270.68 313.93 L270.81 314.03 L270.93 314.14 L271.06 314.25 L271.19 314.35 L271.31 314.46 L271.44 314.35 L271.56 313.93 L271.69 313.50 L271.82 313.07 L271.94 312.64 L272.07 312.22 L272.20 311.79 L272.32 311.36 L272.45 311.15 L272.57 311.25 L272.70 311.36 L272.83 311.47 L272.95 311.57 L273.08 311.68 L273.21 311.79 L273.33 311.89 L273.46 312.00 L273.59 312.11 L273.71 312.22 L273.84 312.32 L273.96 312.43 L274.09 312.54 L274.22 312.64 L274.34 312.75 L274.47 312.86 L274.60 312.96 L274.72 313.07 L274.85 313.18 L274.97 313.28 L275.10 313.39 L275.23 313.50 L275.35 313.60 L275.48 313.71 L275.61 313.82 L275.73 313.93 L275.86 314.03 L275.98 314.14 L276.11 314.25 L276.24 314.35 L276.36 314.46 L276.49 314.35 L276.62 313.93 L276.74 313.50 L276.87 313.07 L276.99 312.64 L277.12 312.22 L277.25 311.79 L277.37 311.36 L277.50 311.15 L277.62 311.25 L277.75 311.36 L277.88 311.47 L278.00 311.57 L278.13 311.68 L278.26 311.79 L278.38 311.89 L278.51 312.00 L278.63 312.11 L278.76 312.22 L278.89 312.32 L279.01 312.43 L279.14 312.54 L279.27 312.64 L279.39 312.75 L279.52 312.86 L279.64 312.96 L279.77 313.07 L279.90 313.18 L280.02 313.28 L280.15 313.39 L280.28 313.50 L280.40 313.60 L280.53 313.71 L280.65 313.82 L280.78 313.93 L280.91 314.03 L281.03 314.14 L281.16 314.25 L281.29 314.35 L281.41 314.46 L281.54 314.35 L281.67 313.93 L281.79 313.50 L281.92 313.07 L282.04 312.64 L282.17 312.22 L282.30 311.79 L282.42 311.36 L282.55 311.15 L282.68 311.25 L282.80 311.36 L282.93 311.47 L283.05 311.57 L283.18 311.68 L283.31 311.79 L283.43 311.89 L283.56 312.00 L283.69 312.11 L283.81 312.22 L283.94 312.32 L284.06 312.43 L284.19 312.54 L284.32 312.64 L284.44 312.75 L284.57 312.86 L284.70 312.96 L284.82 313.07 L284.95 313.18 L285.07 313.28 L285.20 313.39 L285.33 313.50 L285.45 313.60 L285.58 313.71 L285.71 313.82 L285.83 313.93 L285.96 314.03 L286.08 314.14 L286.21 314.25 L286.34 314.35 L286.46 314.46 L286.59 314.35 L286.72 313.93 L286.84 313.50 L286.97 313.07 L287.09 312.64 L287.22 312.22 L287.35 311.79 L287.47 311.36 L287.60 311.15 L287.73 311.25 L287.85 311.36 L287.98 311.47 L288.10 311.57 L288.23 311.68 L288.36 311.79 L288.48 311.89 L288.61 312.00 L288.74 312.11 L288.86 312.22 L288.99 312.32 L289.11 312.43 L289.24 312.54 L289.37 312.64 L289.49 312.75 L289.62 312.86 L289.75 312.96 L289.87 313.07 L290.00 313.18 L290.12 313.28 L290.25 313.39 L290.38 313.50 L290.50 313.60 L290.63 313.71 L290.75 313.82 L290.88 313.93 L291.01 314.03 L291.13 314.14 L291.26 314.25 L291.39 314.35 L291.51 314.46 L291.64 314.35 L291.76 313.93 L291.89 313.50 L292.02 313.07 L292.14 312.64 L292.27 312.22 L292.40 311.79 L292.52 311.36 L292.65 311.15 L292.77 311.25 L292.90 311.36 L293.03 311.47 L293.15 311.57 L293.28 311.68 L293.41 311.79 L293.53 311.89 L293.66 312.00 L293.78 312.11 L293.91 312.22 L294.04 312.32 L294.16 312.43 L294.29 312.54 L294.42 312.64 L294.54 312.75 L294.67 312.86 L294.79 312.96 L294.92 313.07 L295.05 313.18 L295.17 313.28 L295.30 313.39 L295.43 313.50 L295.55 313.60 L295.68 313.71 L295.81 313.82 L295.93 313.93 L296.06 314.03 L296.18 314.14 L296.31 314.25 L296.44 314.35 L296.56 314.46 L296.69 314.35 L296.81 313.93 L296.94 313.50 L297.07 313.07 L297.19 312.64 L297.32 312.22 L297.45 311.79 L297.57 311.36 L297.70 311.15 L297.82 311.25 L297.95 311.36 L298.08 311.47 L298.20 311.57 L298.33 311.68 L298.46 311.79 L298.58 311.89 L298.71 312.00 L298.84 312.11 L298.96 312.22 L299.09 312.32 L299.21 312.43 L299.34 312.54 L299.47 312.64 L299.59 312.75 L299.72 312.86 L299.85 312.96 L299.97 313.07 L300.10 313.18 L300.22 313.28 L300.35 313.39 L300.48 313.50 L300.60 313.60 L300.73 313.71 L300.86 313.82 L300.98 313.93 L301.11 314.03 L301.23 314.14 L301.36 314.25 L301.49 314.35 L301.61 314.46 L301.74 314.35 L301.87 313.93 L301.99 313.50 L302.12 313.07 L302.24 312.64 L302.37 312.22 L302.50 311.79 L302.62 311.36 L302.75 311.15 L302.88 311.25 L303.00 311.36 L303.13 311.47 L303.25 311.57 L303.38 311.68 L303.51 311.79 L303.63 311.89 L303.76 312.00 L303.88 312.11 L304.01 312.22 L304.14 312.32 L304.26 312.43 L304.39 312.54 L304.52 312.64 L304.64 312.75 L304.77 312.86 L304.89 312.96 L305.02 313.07 L305.15 313.18 L305.27 313.28 L305.40 313.39 L305.53 313.50 L305.65 313.60 L305.78 313.71 L305.90 313.82 L306.03 313.93 L306.16 314.03 L306.28 314.14 L306.41 314.25 L306.54 314.35 L306.66 314.46 L306.79 314.35 L306.91 313.93 L307.04 313.50 L307.17 313.07 L307.29 312.64 L307.42 312.22 L307.55 311.79 L307.67 311.36 L307.80 311.15 L307.93 311.25 L308.05 311.36 L308.18 311.47 L308.30 311.57 L308.43 311.68 L308.56 311.79 L308.68 311.89 L308.81 312.00 L308.94 312.11 L309.06 312.22 L309.19 312.32 L309.31 312.43 L309.44 312.54 L309.57 312.64 L309.69 312.75 L309.82 312.86 L309.94 312.96 L310.07 313.07 L310.20 313.18 L310.32 313.28 L310.45 313.39 L310.58 313.50 L310.70 313.60 L310.83 313.71 L310.96 313.82 L311.08 313.93 L311.21 314.03 L311.33 314.14 L311.46 314.25 L311.59 314.35 L311.71 314.46 L311.84 314.35 L311.97 313.93 L312.09 313.50 L312.22 313.07 L312.34 312.64 L312.47 312.22 L312.60 311.79 L312.72 311.36 L312.85 311.15 L312.98 311.25 L313.10 311.36 L313.23 311.47 L313.35 311.57 L313.48 311.68 L313.61 311.79 L313.73 311.89 L313.86 312.00 L313.99 312.11 L314.11 312.22 L314.24 312.32 L314.36 312.43 L314.49 312.54 L314.62 312.64 L314.74 312.75 L314.87 312.86 L315.00 312.96 L315.12 313.07 L315.25 313.18 L315.37 313.28 L315.50 313.39 L315.63 313.50 L315.75 313.60 L315.88 313.71 L316.00 313.82 L316.13 313.93 L316.26 314.03 L316.38 314.14 L316.51 314.25 L316.64 314.35 L316.76 314.46 L316.89 314.35 L317.01 313.93 L317.14 313.50 L317.27 313.07 L317.39 312.64 L317.52 312.22 L317.65 311.79 L317.77 311.36 L317.90 311.15 L318.02 311.25 L318.15 311.36 L318.28 311.47 L318.40 311.57 L318.53 311.68 L318.66 311.79 L318.78 311.89 L318.91 312.00 L319.04 312.11 L319.16 312.22 L319.29 312.32 L319.41 312.43 L319.54 312.54 L319.67 312.64 L319.79 312.75 L319.92 312.86 L320.05 312.96 L320.17 313.07 L320.30 313.18 L320.42 313.28 L320.55 313.39 L320.68 313.50 L320.80 313.60 L320.93 313.71 L321.06 313.82 L321.18 313.93 L321.31 314.03 L321.43 314.14 L321.56 314.25 L321.69 314.35 L321.81 314.46 L321.94 314.35 L322.07 313.93 L322.19 313.50 L322.32 313.07 L322.44 312.64 L322.57 312.22 L322.70 311.79 L322.82 311.36 L322.95 311.15 L323.08 311.25 L323.20 311.36 L323.33 311.47 L323.45 311.57 L323.58 311.68 L323.71 311.79 L323.83 311.89 L323.96 312.00 L324.08 312.11 L324.21 312.22 L324.34 312.32 L324.46 312.43 L324.59 312.54 L324.72 312.64 L324.84 312.75 L324.97 312.86 L325.10 312.96 L325.22 313.07 L325.35 313.18 L325.47 313.28 L325.60 313.39 L325.73 313.50 L325.85 313.60 L325.98 313.71 L326.11 313.82 L326.23 313.93 L326.36 314.03 L326.48 314.14 L326.61 314.25 L326.74 314.35 L326.86 314.46 L326.99 314.35 L327.12 313.93 L327.24 313.50 L327.37 313.07 L327.49 312.64 L327.62 312.22 L327.75 311.79 L327.87 311.36 L328.00 311.15 L328.12 311.25 L328.25 311.36 L328.38 311.47 L328.50 311.57 L328.63 311.68 L328.76 311.79 L328.88 311.89 L329.01 312.00 L329.13 312.11 L329.26 312.22 L329.39 312.32 L329.51 312.43 L329.64 312.54 L329.77 312.64 L329.89 312.75 L330.02 312.86 L330.14 312.96 L330.27 313.07 L330.40 313.18 L330.52 313.28 L330.65 313.39 L330.78 313.50 L330.90 313.60 L331.03 313.71 L331.15 313.82 L331.28 313.93 L331.41 314.03 L331.53 314.14 L331.66 314.25 L331.79 314.35 L331.91 314.46 L332.04 314.35 L332.16 313.93 L332.29 313.50 L332.42 313.07 L332.54 312.64 L332.67 312.22 L332.80 311.79 L332.92 311.36 L333.05 311.15 L333.18 311.25 L333.30 311.36 L333.43 311.47 L333.55 311.57 L333.68 311.68 L333.81 311.79 L333.93 311.89 L334.06 312.00 L334.19 312.11 L334.31 312.22 L334.44 312.32 L334.56 312.43 L334.69 312.54 L334.82 312.64 L334.94 312.75 L335.07 312.86 L335.19 312.96 L335.32 313.07 L335.45 313.18 L335.57 313.28 L335.70 313.39 L335.83 313.50 L335.95 313.60 L336.08 313.71 L336.21 313.82 L336.33 313.93 L336.46 314.03 L336.58 314.14 L336.71 314.25 L336.84 314.35 L336.96 314.46 L337.09 314.35 L337.22 313.93 L337.34 313.50 L337.47 313.07 L337.59 312.64 L337.72 312.22 L337.85 311.79 L337.97 311.36 L338.10 311.15 L338.23 311.25 L338.35 311.36 L338.48 311.47 L338.60 311.57 L338.73 311.68 L338.86 311.79 L338.98 311.89 L339.11 312.00 L339.24 312.11 L339.36 312.22 L339.49 312.32 L339.61 312.43 L339.74 312.54 L339.87 312.64 L339.99 312.75 L340.12 312.86 L340.25 312.96 L340.37 313.07 L340.50 313.18 L340.62 313.28 L340.75 313.39 L340.88 313.50 L341.00 313.60 L341.13 313.71 L341.25 313.82 L341.38 313.93 L341.51 314.03 L341.63 314.14 L341.76 314.25 L341.89 314.35 L342.01 314.46 L342.14 314.35 L342.26 313.93 L342.39 313.50 L342.52 313.07 L342.64 312.64 L342.77 312.22 L342.90 311.79 L343.02 311.36 L343.15 311.15 L343.27 311.25 L343.40 311.36 L343.53 311.47 L343.65 311.57 L343.78 311.68 L343.91 311.79 L344.03 311.89 L344.16 312.00 L344.28 312.11 L344.41 312.22 L344.54 312.32 L344.66 312.43 L344.79 312.54 L344.92 312.64 L345.04 312.75 L345.17 312.86 L345.30 312.96 L345.42 313.07 L345.55 313.18 L345.67 313.28 L345.80 313.39 L345.93 313.50 L346.05 313.60 L346.18 313.71 L346.31 313.82 L346.43 313.93 L346.56 314.03 L346.68 314.14 L346.81 314.25 L346.94 314.35 L347.06 314.46 L347.19 314.35 L347.31 313.93 L347.44 313.50 L347.57 313.07 L347.69 312.64 L347.82 312.22 L347.95 311.79 L348.07 311.36 L348.20 311.15 L348.33 311.25 L348.45 311.36 L348.58 311.47 L348.70 311.57 L348.83 311.68 L348.96 311.79 L349.08 311.89 L349.21 312.00 L349.34 312.11 L349.46 312.22 L349.59 312.32 L349.71 312.43 L349.84 312.54 L349.97 312.64 L350.09 312.75 L350.22 312.86 L350.35 312.96 L350.47 313.07 L350.60 313.18 L350.72 313.28 L350.85 313.39 L350.98 313.50 L351.10 313.60 L351.23 313.71 L351.36 313.82 L351.48 313.93 L351.61 314.03 L351.73 314.14 L351.86 314.25 L351.99 314.35 L352.11 314.46 L352.24 314.35 L352.37 313.93 L352.49 313.50 L352.62 313.07 L352.74 312.64 L352.87 312.22 L353.00 311.79 L353.12 311.36 L353.25 311.15 L353.38 311.25 L353.50 311.36 L353.63 311.47 L353.75 311.57 L353.88 311.68 L354.01 311.79 L354.13 311.89 L354.26 312.00 L354.38 312.11 L354.51 312.22 L354.64 312.32 L354.76 312.43 L354.89 312.54 L355.02 312.64 L355.14 312.75 L355.27 312.86 L355.39 312.96 L355.52 313.07 L355.65 313.18 L355.77 313.28 L355.90 313.39 L356.03 313.50 L356.15 313.60 L356.28 313.71 L356.40 313.82 L356.53 313.93 L356.66 314.03 L356.78 314.14 L356.91 314.25 L357.04 314.35 L357.16 314.46 L357.29 314.70 L357.41 314.54 L357.54 314.34 L357.67 314.10 L357.79 313.83 L357.92 313.52 L358.05 313.18 L358.17 312.81 L358.30 312.41 L358.42 311.98 L358.55 311.53 L358.68 311.06 L358.80 310.57 L358.93 310.06 L359.06 309.53 L359.18 308.99 L359.31 308.44 L359.44 307.87 L359.56 307.30 L359.69 306.73 L359.81 306.15 L359.94 305.57 L360.07 304.98 L360.19 304.41 L360.32 303.83 L360.44 303.26 L360.57 302.70 L360.70 302.15 L360.82 301.62 L360.95 301.09 L361.08 300.59 L361.20 300.10 L361.33 299.88 L361.45 300.04 L361.58 300.22 L361.71 300.39 L361.83 300.57 L361.96 300.75 L362.09 300.94 L362.21 301.12 L362.34 301.06 L362.47 300.65 L362.59 300.23 L362.72 299.82 L362.84 299.40 L362.97 298.99 L363.10 298.58 L363.22 298.18 L363.35 297.77 L363.48 297.37 L363.60 296.96 L363.73 296.56 L363.85 296.16 L363.98 295.76 L364.11 295.36 L364.23 294.96 L364.36 294.56 L364.49 294.17 L364.61 293.77 L364.74 293.38 L364.86 292.99 L364.99 292.59 L365.12 292.20 L365.24 291.81 L365.37 291.42 L365.50 291.03 L365.62 290.64 L365.75 290.26 L365.87 289.87 L366.00 289.48 L366.13 289.09 L366.25 288.71 L366.38 288.56 L366.50 288.78 L366.63 289.00 L366.76 289.23 L366.88 289.45 L367.01 289.67 L367.14 289.89 L367.26 290.11 L367.39 290.09 L367.51 289.71 L367.64 289.33 L367.77 288.95 L367.89 288.57 L368.02 288.19 L368.15 287.82 L368.27 287.44 L368.40 287.07 L368.52 286.69 L368.65 286.32 L368.78 285.95 L368.90 285.57 L369.03 285.20 L369.16 284.83 L369.28 284.46 L369.41 284.09 L369.54 283.72 L369.66 283.35 L369.79 282.98 L369.91 282.62 L370.04 282.25 L370.17 281.88 L370.29 281.52 L370.42 281.15 L370.55 280.78 L370.67 280.42 L370.80 280.05 L370.92 279.68 L371.05 279.32 L371.18 278.95 L371.30 278.59 L371.43 278.47 L371.56 278.71 L371.68 278.95 L371.81 279.19 L371.93 279.43 L372.06 279.67 L372.19 279.91 L372.31 280.15 L372.44 280.14 L372.56 279.78 L372.69 279.41 L372.82 279.04 L372.94 278.67 L373.07 278.30 L373.20 277.93 L373.32 277.56 L373.45 277.19 L373.57 276.82 L373.70 276.45 L373.83 276.08 L373.95 275.71 L374.08 275.33 L374.21 274.96 L374.33 274.59 L374.46 274.23 L374.58 273.86 L374.71 273.49 L374.84 273.12 L374.96 272.76 L375.09 272.39 L375.22 272.03 L375.34 271.67 L375.47 271.31 L375.60 270.95 L375.72 270.59 L375.85 270.23 L375.97 269.88 L376.10 269.53 L376.23 269.18 L376.35 268.83 L376.48 268.72 L376.61 268.99 L376.73 269.25 L376.86 269.52 L376.98 269.79 L377.11 270.06 L377.24 270.33 L377.36 270.61 L377.49 270.64 L377.62 270.31 L377.74 269.99 L377.87 269.66 L377.99 269.34 L378.12 269.01 L378.25 268.69 L378.37 268.37 L378.50 268.05 L378.62 267.73 L378.75 267.41 L378.88 267.09 L379.00 266.78 L379.13 266.46 L379.26 266.15 L379.38 265.84 L379.51 265.53 L379.63 265.22 L379.76 264.91 L379.89 264.60 L380.01 264.29 L380.14 263.99 L380.27 263.69 L380.39 263.38 L380.52 263.08 L380.65 262.78 L380.77 262.48 L380.90 262.18 L381.02 261.89 L381.15 261.59 L381.28 261.29 L381.40 261.00 L381.53 260.95 L381.66 261.27 L381.78 261.58 L381.91 261.90 L382.03 262.22 L382.16 262.53 L382.29 262.85 L382.41 263.18 L382.54 263.26 L382.67 262.98 L382.79 262.70 L382.92 262.42 L383.04 262.14 L383.17 261.86 L383.30 261.59 L383.42 261.31 L383.55 261.04 L383.68 260.76 L383.80 260.49 L383.93 260.22 L384.05 259.95 L384.18 259.68 L384.31 259.41 L384.43 259.15 L384.56 258.88 L384.69 258.61 L384.81 258.35 L384.94 258.08 L385.06 257.82 L385.19 257.56 L385.32 257.29 L385.44 257.03 L385.57 256.77 L385.69 256.51 L385.82 256.25 L385.95 255.98 L386.07 255.72 L386.20 255.46 L386.33 255.20 L386.45 254.94 L386.58 254.92 L386.71 255.27 L386.83 255.62 L386.96 255.96 L387.08 256.31 L387.21 256.66 L387.34 257.00 L387.46 257.35 L387.59 257.45 L387.72 257.19 L387.84 256.93 L387.97 256.67 L388.09 256.41 L388.22 256.15 L388.35 255.90 L388.47 255.64 L388.60 255.38 L388.73 255.12 L388.85 254.86 L388.98 254.61 L389.10 254.35 L389.23 254.09 L389.36 253.84 L389.48 253.58 L389.61 253.32 L389.74 253.07 L389.86 252.82 L389.99 252.56 L390.11 252.31 L390.24 252.05 L390.37 251.80 L390.49 251.55 L390.62 251.30 L390.75 251.05 L390.87 250.80 L391.00 250.55 L391.12 250.30 L391.25 250.05 L391.38 249.81 L391.50 249.56 L391.63 249.56 L391.75 249.92 L391.88 250.28 L392.01 250.64 L392.13 251.00 L392.26 251.37 L392.39 251.73 L392.51 252.10 L392.64 252.22 L392.77 251.98 L392.89 251.75 L393.02 251.51 L393.14 251.27 L393.27 251.04 L393.40 250.80 L393.52 250.57 L393.65 250.33 L393.78 250.10 L393.90 249.87 L394.03 249.63 L394.15 249.40 L394.28 249.17 L394.41 248.94 L394.53 248.71 L394.66 248.48 L394.79 248.25 L394.91 248.02 L395.04 247.79 L395.16 247.56 L395.29 247.33 L395.42 247.11 L395.54 246.88 L395.67 246.65 L395.80 246.43 L395.92 246.20 L396.05 245.97 L396.17 245.75 L396.30 245.52 L396.43 245.30 L396.55 245.08 L396.68 245.09 L396.81 245.48 L396.93 245.86 L397.06 246.24 L397.18 246.62 L397.31 247.00 L397.44 247.39 L397.56 247.77 L397.69 247.91 L397.82 247.69 L397.94 247.47 L398.07 247.25 L398.19 247.02 L398.32 246.80 L398.45 246.58 L398.57 246.36 L398.70 246.14 L398.83 245.92 L398.95 245.70 L399.08 245.48 L399.20 245.26 L399.33 245.04 L399.46 244.82 L399.58 244.60 L399.71 244.38 L399.84 244.16 L399.96 243.94 L400.09 243.73 L400.21 243.51 L400.34 243.29 L400.47 243.08 L400.59 242.87 L400.72 242.65 L400.85 242.44 L400.97 242.23 L401.10 242.01 L401.22 241.80 L401.35 241.59 L401.48 241.39 L401.60 241.18 L401.73 241.21 L401.86 241.61 L401.98 242.01 L402.11 242.41 L402.23 242.82 L402.36 243.22 L402.49 243.62 L402.61 244.02 L402.74 244.19 L402.87 243.99 L402.99 243.79 L403.12 243.58 L403.24 243.39 L403.37 243.19 L403.50 242.99 L403.62 242.79 L403.75 242.59 L403.88 242.39 L404.00 242.20 L404.13 242.00 L404.25 241.81 L404.38 241.61 L404.51 241.42 L404.63 241.22 L404.76 241.03 L404.88 240.83 L405.01 240.64 L405.14 240.45 L405.26 240.25 L405.39 240.06 L405.52 239.87 L405.64 239.68 L405.77 239.49 L405.89 239.30 L406.02 239.11 L406.15 238.92 L406.27 238.73 L406.40 238.54 L406.53 238.35 L406.65 238.17 L406.78 238.22 L406.90 238.64 L407.03 239.06 L407.16 239.48 L407.28 239.90 L407.41 240.32 L407.54 240.74 L407.66 241.16 L407.79 241.34 L407.91 241.15 L408.04 240.97 L408.17 240.79 L408.29 240.60 L408.42 240.42 L408.55 240.23 L408.67 240.05 L408.80 239.87 L408.92 239.69 L409.05 239.50 L409.18 239.32 L409.30 239.14 L409.43 238.96 L409.56 238.77 L409.68 238.59 L409.81 238.41 L409.94 238.23 L410.06 238.05 L410.19 237.87 L410.31 237.69 L410.44 237.51 L410.57 237.33 L410.69 237.15 L410.82 236.97 L410.94 236.79 L411.07 236.61 L411.20 236.43 L411.32 236.25 L411.45 236.07 L411.58 235.89 L411.70 235.72 L411.83 235.78 L411.95 236.21 L412.08 236.64 L412.21 237.07 L412.33 237.49 L412.46 237.92 L412.59 238.35 L412.71 238.78 L412.84 238.97 L412.96 238.80 L413.09 238.62 L413.22 238.45 L413.34 238.27 L413.47 238.10 L413.60 237.92 L413.72 237.75 L413.85 237.58 L413.97 237.40 L414.10 237.23 L414.23 237.06 L414.35 236.89 L414.48 236.72 L414.61 236.54 L414.73 236.37 L414.86 236.20 L414.99 236.03 L415.11 235.86 L415.24 235.69 L415.36 235.52 L415.49 235.35 L415.62 235.18 L415.74 235.02 L415.87 234.85 L416.00 234.68 L416.12 234.51 L416.25 234.35 L416.37 234.18 L416.50 234.01 L416.63 233.85 L416.75 233.68 L416.88 233.76 L417.00 234.20 L417.13 234.64 L417.26 235.08 L417.38 235.52 L417.51 235.96 L417.64 236.40 L417.76 236.84 L417.89 237.04 L418.01 236.88 L418.14 236.72 L418.27 236.55 L418.39 236.39 L418.52 236.23 L418.65 236.06 L418.77 235.90 L418.90 235.74 L419.02 235.58 L419.15 235.42 L419.28 235.25 L419.40 235.09 L419.53 234.93 L419.66 234.77 L419.78 234.61 L419.91 234.45 L420.03 234.29 L420.16 234.13 L420.29 233.97 L420.41 233.81 L420.54 233.65 L420.67 233.49 L420.79 233.33 L420.92 233.17 L421.05 233.01 L421.17 232.85 L421.30 232.69 L421.42 232.53 L421.55 232.37 L421.68 232.21 L421.80 232.06 L421.93 232.14 L422.06 232.59 L422.18 233.04 L422.31 233.48 L422.43 233.93 L422.56 234.38 L422.69 234.83 L422.81 235.28 L422.94 235.48 L423.06 235.33 L423.19 235.17 L423.32 235.01 L423.44 234.86 L423.57 234.70 L423.70 234.55 L423.82 234.39 L423.95 234.23 L424.07 234.08 L424.20 233.92 L424.33 233.77 L424.45 233.61 L424.58 233.46 L424.71 233.30 L424.83 233.15 L424.96 232.99 L425.08 232.84 L425.21 232.69 L425.34 232.53 L425.46 232.38 L425.59 232.22 L425.72 232.07 L425.84 231.92 L425.97 231.76 L426.09 231.61 L426.22 231.46 L426.35 231.30 L426.47 231.15 L426.60 231.00 L426.73 230.85 L426.85 230.69 L426.98 230.78 L427.11 231.24 L427.23 231.69 L427.36 232.14 L427.48 232.60 L427.61 233.05 L427.74 233.50 L427.86 233.96 L427.99 234.17 L428.12 234.01 L428.24 233.86 L428.37 233.71 L428.49 233.56 L428.62 233.41 L428.75 233.25 L428.87 233.10 L429.00 232.95 L429.12 232.80 L429.25 232.65 L429.38 232.50 L429.50 232.35 L429.63 232.19 L429.76 232.04 L429.88 231.89 L430.01 231.74 L430.13 231.59 L430.26 231.44 L430.39 231.29 L430.51 231.14 L430.64 230.99 L430.77 230.83 L430.89 230.68 L431.02 230.53 L431.14 230.38 L431.27 230.23 L431.40 230.08 L431.52 229.93 L431.65 229.78 L431.78 229.63 L431.90 229.48 L432.03 229.58 L432.16 230.03 L432.28 230.49 L432.41 230.95 L432.53 231.40 L432.66 231.86 L432.79 232.31 L432.91 232.77 L433.04 232.99 L433.17 232.84 L433.29 232.69 L433.42 232.54 L433.54 232.39 L433.67 232.24 L433.80 232.10 L433.92 231.95 L434.05 231.80 L434.18 231.65 L434.30 231.51 L434.43 231.36 L434.55 231.21 L434.68 231.07 L434.81 230.92 L434.93 230.77 L435.06 230.63 L435.19 230.48 L435.31 230.33 L435.44 230.19 L435.56 230.04 L435.69 229.90 L435.82 229.75 L435.94 229.60 L436.07 229.46 L436.19 229.31 L436.32 229.17 L436.45 229.03 L436.57 228.88 L436.70 228.74 L436.83 228.59 L436.95 228.45 L437.08 228.55 L437.20 229.01 L437.33 229.47 L437.46 229.93 L437.58 230.40 L437.71 230.86 L437.84 231.32 L437.96 231.79 L438.09 232.01 L438.22 231.86 L438.34 231.72 L438.47 231.58 L438.59 231.44 L438.72 231.30 L438.85 231.16 L438.97 231.02 L439.10 230.88 L439.23 230.74 L439.35 230.60 L439.48 230.46 L439.60 230.32 L439.73 230.18 L439.86 230.04 L439.98 229.90 L440.11 229.76 L440.24 229.62 L440.36 229.48 L440.49 229.34 L440.61 229.20 L440.74 229.06 L440.87 228.92 L440.99 228.78 L441.12 228.64 L441.25 228.50 L441.37 228.37 L441.50 228.23 L441.62 228.09 L441.75 227.95 L441.88 227.81 L442.00 227.68 L442.13 227.78 L442.25 228.25 L442.38 228.72 L442.51 229.18 L442.63 229.65 L442.76 230.12 L442.89 230.59 L443.01 231.06 L443.14 231.28 L443.26 231.14 L443.39 231.01 L443.52 230.87 L443.64 230.73 L443.77 230.60 L443.90 230.46 L444.02 230.32 L444.15 230.19 L444.28 230.05 L444.40 229.91 L444.53 229.78 L444.65 229.64 L444.78 229.50 L444.91 229.37 L445.03 229.23 L445.16 229.10 L445.29 228.96 L445.41 228.82 L445.54 228.69 L445.66 228.55 L445.79 228.42 L445.92 228.28 L446.04 228.15 L446.17 228.01 L446.30 227.88 L446.42 227.74 L446.55 227.60 L446.67 227.47 L446.80 227.33 L446.93 227.20 L447.05 227.06 L447.18 227.17 L447.31 227.64 L447.43 228.11 L447.56 228.58 L447.68 229.05 L447.81 229.53 L447.94 230.00 L448.06 230.47 L448.19 230.70 L448.31 230.56 L448.44 230.43 L448.57 230.29 L448.69 230.16 L448.82 230.02 L448.95 229.89 L449.07 229.76 L449.20 229.62 L449.33 229.49 L449.45 229.35 L449.58 229.22 L449.70 229.09 L449.83 228.95 L449.96 228.82 L450.08 228.68 L450.21 228.55 L450.34 228.42 L450.46 228.28 L450.59 228.15 L450.71 228.02 L450.84 227.88 L450.97 227.75 L451.09 227.61 L451.22 227.48 L451.35 227.35 L451.47 227.21 L451.60 227.08 L451.72 226.95 L451.85 226.81 L451.98 226.68 L452.10 226.55 L452.23 226.66 L452.36 227.13 L452.48 227.60 L452.61 228.07 L452.73 228.55 L452.86 229.02 L452.99 229.49 L453.11 229.96 L453.24 230.19 L453.37 230.06 L453.49 229.93 L453.62 229.79 L453.74 229.66 L453.87 229.53 L454.00 229.39 L454.12 229.26 L454.25 229.13 L454.38 228.99 L454.50 228.86 L454.63 228.73 L454.75 228.59 L454.88 228.46 L455.01 228.33 L455.13 228.19 L455.26 228.06 L455.39 227.93 L455.51 227.79 L455.64 227.66 L455.76 227.53 L455.89 227.39 L456.02 227.26 L456.14 227.13 L456.27 226.99 L456.40 226.86 L456.52 226.72 L456.65 226.59 L456.77 226.46 L456.90 226.33 L457.03 226.19 L457.15 226.06 L457.28 226.17 L457.41 226.64 L457.53 227.11 L457.66 227.59 L457.78 228.06 L457.91 228.53 L458.04 229.00 L458.16 229.48 L458.29 229.71 L458.42 229.57 L458.54 229.44 L458.67 229.31 L458.79 229.17 L458.92 229.04 L459.05 228.91 L459.17 228.78 L459.30 228.64 L459.43 228.51 L459.55 228.38 L459.68 228.25 L459.80 228.12 L459.93 227.98 L460.06 227.85 L460.18 227.72 L460.31 227.59 L460.44 227.45 L460.56 227.32 L460.69 227.19 L460.81 227.06 L460.94 226.93 L461.07 226.80 L461.19 226.66 L461.32 226.53 L461.45 226.40 L461.57 226.27 L461.70 226.14 L461.82 226.01 L461.95 225.88 L462.08 225.75 L462.20 225.62 L462.33 225.73 L462.46 226.20 L462.58 226.68 L462.71 227.15 L462.83 227.63 L462.96 228.10 L463.09 228.58 L463.21 229.05 L463.34 229.29 L463.47 229.16 L463.59 229.03 L463.72 228.90 L463.84 228.77 L463.97 228.64 L464.10 228.51 L464.22 228.38 L464.35 228.25 L464.48 228.12 L464.60 228.00 L464.73 227.87 L464.85 227.74 L464.98 227.61 L465.11 227.48 L465.23 227.35 L465.36 227.23 L465.49 227.10 L465.61 226.97 L465.74 226.84 L465.86 226.72 L465.99 226.59 L466.12 226.46 L466.24 226.34 L466.37 226.21 L466.50 226.08 L466.62 225.96 L466.75 225.83 L466.87 225.70 L467.00 225.58 L467.13 225.45 L467.25 225.33 L467.38 225.44 L467.51 225.92 L467.63 226.40 L467.76 226.88 L467.88 227.36 L468.01 227.84 L468.14 228.32 L468.26 228.80 L468.39 229.04 L468.52 228.91 L468.64 228.79 L468.77 228.66 L468.89 228.54 L469.02 228.41 L469.15 228.28 L469.27 228.16 L469.40 228.03 L469.52 227.91 L469.65 227.78 L469.78 227.66 L469.90 227.53 L470.03 227.41 L470.16 227.28 L470.28 227.15 L470.41 227.03 L470.53 226.90 L470.66 226.78 L470.79 226.65 L470.91 226.53 L471.04 226.40 L471.17 226.28 L471.29 226.15 L471.42 226.03 L471.54 225.90 L471.67 225.78 L471.80 225.65 L471.92 225.52 L472.05 225.40 L472.18 225.27 L472.30 225.15 L472.43 225.27 L472.56 225.75 L472.68 226.23 L472.81 226.71 L472.93 227.19 L473.06 227.67 L473.19 228.15 L473.31 228.63 L473.44 228.87 L473.56 228.74 L473.69 228.62 L473.82 228.49 L473.94 228.37 L474.07 228.24 L474.20 228.12 L474.32 227.99 L474.45 227.87 L474.57 227.74 L474.70 227.62 L474.83 227.49 L474.95 227.37 L475.08 227.24 L475.21 227.12 L475.33 226.99 L475.46 226.87 L475.58 226.74 L475.71 226.62 L475.84 226.50 L475.96 226.37 L476.09 226.25 L476.22 226.12 L476.34 226.00 L476.47 225.87 L476.59 225.75 L476.72 225.62 L476.85 225.50 L476.97 225.37 L477.10 225.25 L477.23 225.12 L477.35 225.00 L477.48 225.12 L477.60 225.60 L477.73 226.08 L477.86 226.56 L477.98 227.04 L478.11 227.52 L478.24 228.00 L478.36 228.49 L478.49 228.72 L478.62 228.60 L478.74 228.48 L478.87 228.35 L478.99 228.23 L479.12 228.10 L479.25 227.98 L479.37 227.85 L479.50 227.73 L479.62 227.61 L479.75 227.48 L479.88 227.36 L480.00 227.23 L480.13 227.11 L480.26 226.98 L480.38 226.86 L480.51 226.74 L480.63 226.61 L480.76 226.49 L480.89 226.36 L481.01 226.24 L481.14 226.12 L481.27 225.99 L481.39 225.87 L481.52 225.74 L481.64 225.62 L481.77 225.50 L481.90 225.37 L482.02 225.25 L482.15 225.12 L482.28 225.00 L482.40 224.88 L482.53 224.99 L482.65 225.48 L482.78 225.96 L482.91 226.44 L483.03 226.92 L483.16 227.40 L483.29 227.89 L483.41 228.37 L483.54 228.61 L483.67 228.48 L483.79 228.36 L483.92 228.24 L484.04 228.11 L484.17 227.99 L484.30 227.86 L484.42 227.74 L484.55 227.62 L484.68 227.49 L484.80 227.37 L484.93 227.25 L485.05 227.12 L485.18 227.00 L485.31 226.88 L485.43 226.75 L485.56 226.63 L485.69 226.50 L485.81 226.38 L485.94 226.26 L486.06 226.13 L486.19 226.01 L486.32 225.89 L486.44 225.76 L486.57 225.64 L486.69 225.52 L486.82 225.39 L486.95 225.27 L487.07 225.15 L487.20 225.02 L487.33 224.90 L487.45 224.78 L487.58 224.90 L487.70 225.38 L487.83 225.86 L487.96 226.34 L488.08 226.83 L488.21 227.31 L488.34 227.79 L488.46 228.27 L488.59 228.51 L488.71 228.39 L488.84 228.27 L488.97 228.14 L489.09 228.02 L489.22 227.90 L489.35 227.77 L489.47 227.65 L489.60 227.53 L489.73 227.41 L489.85 227.28 L489.98 227.16 L490.10 227.04 L490.23 226.91 L490.36 226.79 L490.48 226.67 L490.61 226.54 L490.74 226.42 L490.86 226.30 L490.99 226.18 L491.11 226.05 L491.24 225.93 L491.37 225.81 L491.49 225.68 L491.62 225.56 L491.75 225.44 L491.87 225.32 L492.00 225.19 L492.12 225.07 L492.25 224.95 L492.38 224.82 L492.50 224.70 L492.63 224.82 L492.75 225.30 L492.88 225.79 L493.01 226.27 L493.13 226.75 L493.26 227.24 L493.39 227.72 L493.51 228.20 L493.64 228.44 L493.76 228.32 L493.89 228.20 L494.02 228.07 L494.14 227.95 L494.27 227.83 L494.40 227.71 L494.52 227.58 L494.65 227.46 L494.77 227.34 L494.90 227.22 L495.03 227.09 L495.15 226.97 L495.28 226.85 L495.41 226.73 L495.53 226.61 L495.66 226.48 L495.79 226.36 L495.91 226.24 L496.04 226.12 L496.16 225.99 L496.29 225.87 L496.42 225.75 L496.54 225.63 L496.67 225.50 L496.80 225.38 L496.92 225.26 L497.05 225.14 L497.17 225.02 L497.30 224.89 L497.43 224.77 L497.55 224.65 L497.68 224.77 L497.81 225.25 L497.93 225.74 L498.06 226.22 L498.18 226.70 L498.31 227.19 L498.44 227.67 L498.56 228.15 L498.69 228.39 L498.81 228.27 L498.94 228.15 L499.07 228.03 L499.19 227.90 L499.32 227.78 L499.45 227.66 L499.57 227.54 L499.70 227.42 L499.82 227.29 L499.95 227.17 L500.08 227.05 L500.20 226.93 L500.33 226.81 L500.46 226.68 L500.58 226.56 L500.71 226.44 L500.83 226.32 L500.96 226.19 L501.09 226.07 L501.21 225.95 L501.34 225.83 L501.47 225.71 L501.59 225.58 L501.72 225.46 L501.85 225.34 L501.97 225.22 L502.10 225.10 L502.22 224.97 L502.35 224.85 L502.48 224.73 L502.60 224.61 L502.73 224.73 L502.86 225.21 L502.98 225.69 L503.11 226.18 L503.23 226.66 L503.36 227.14 L503.49 227.63 L503.61 228.11 L503.74 228.35 L503.87 228.23 L503.99 228.11 L504.12 227.99 L504.24 227.86 L504.37 227.74 L504.50 227.62 L504.62 227.50 L504.75 227.38 L504.88 227.25 L505.00 227.13 L505.13 227.01 L505.25 226.89 L505.38 226.77 L505.51 226.64 L505.63 226.52 L505.76 226.40 L505.88 226.28 L506.01 226.15 L506.14 226.03 L506.26 225.91 L506.39 225.79 L506.52 225.67 L506.64 225.54 L506.77 225.42 L506.90 225.30 L507.02 225.18 L507.15 225.06 L507.27 224.93 L507.40 224.81 L507.53 224.69 L507.65 224.57 L507.78 224.69 L507.91 225.17 L508.03 225.65 L508.16 226.14 L508.28 226.62 L508.41 227.11 L508.54 227.59 L508.66 228.07 L508.79 228.31 L508.92 228.19 L509.04 228.07 L509.17 227.95 L509.29 227.83 L509.42 227.70 L509.55 227.58 L509.67 227.46 L509.80 227.34 L509.93 227.22 L510.05 227.09 L510.18 226.97 L510.30 226.85 L510.43 226.73 L510.56 226.61 L510.68 226.48 L510.81 226.36 L510.94 226.24 L511.06 226.12 L511.19 226.00 L511.31 225.87 L511.44 225.75 L511.57 225.63 L511.69 225.51 L511.82 225.39 L511.94 225.26 L512.07 225.14 L512.20 225.02 L512.32 224.90 L512.45 224.78 L512.58 224.65 L512.70 224.53 L512.83 224.65 L512.96 225.14 L513.08 225.62 L513.21 226.10 L513.33 226.59 L513.46 227.07 L513.59 227.55 L513.71 228.04 L513.84 228.28 L513.97 228.16 L514.09 228.04 L514.22 227.91 L514.34 227.79 L514.47 227.67 L514.60 227.55 L514.72 227.43 L514.85 227.30 L514.98 227.18 L515.10 227.06 L515.23 226.94 L515.35 226.82 L515.48 226.69 L515.61 226.57 L515.73 226.45 L515.86 226.33 L515.99 226.21 L516.11 226.09 L516.24 225.96 L516.36 225.84 L516.49 225.72 L516.62 225.60 L516.74 225.48 L516.87 225.35 L517.00 225.23 L517.12 225.11 L517.25 224.99 L517.37 224.87 L517.50 224.74 L517.63 224.62 L517.75 224.50 L517.88 224.62 L518.00 225.10 L518.13 225.59 L518.26 226.07 L518.38 226.56 L518.51 227.04 L518.64 227.52 L518.76 228.01 L518.89 228.25 L519.02 228.13 L519.14 228.01 L519.27 227.88 L519.39 227.76 L519.52 227.64 L519.65 227.52 L519.77 227.40 L519.90 227.27 L520.03 227.15 L520.15 227.03 L520.28 226.91 L520.40 226.79 L520.53 226.67 L520.66 226.54 L520.78 226.42 L520.91 226.30 L521.04 226.18 L521.16 226.06 L521.29 225.93 L521.41 225.81 L521.54 225.69 L521.67 225.57 L521.79 225.45 L521.92 225.33 L522.05 225.20 L522.17 225.08 L522.30 224.96 L522.42 224.84 L522.55 224.72 L522.68 224.60 L522.80 224.47 L522.93 224.59 L523.06 225.08 L523.18 225.56 L523.31 226.05 L523.43 226.53 L523.56 227.01 L523.69 227.50 L523.81 227.98 L523.94 228.22 L524.07 228.10 L524.19 227.98 L524.32 227.86 L524.44 227.74 L524.57 227.61 L524.70 227.49 L524.82 227.37 L524.95 227.25 L525.08 227.13 L525.20 227.01 L525.33 226.88 L525.45 226.76 L525.58 226.64 L525.71 226.52 L525.83 226.40 L525.96 226.28 L526.09 226.15 L526.21 226.03 L526.34 225.91 L526.46 225.79 L526.59 225.67 L526.72 225.55 L526.84 225.42 L526.97 225.30 L527.10 225.18 L527.22 225.06 L527.35 224.94 L527.47 224.82 L527.60 224.70 L527.73 224.57 L527.85 224.45 L527.98 224.57 L528.11 225.06 L528.23 225.54 L528.36 226.02 L528.48 226.51 L528.61 226.99 L528.74 227.48 L528.86 227.96 L528.99 228.20 L529.12 228.08 L529.24 227.96 L529.37 227.84 L529.49 227.72 L529.62 227.59 L529.75 227.47 L529.87 227.35 L530.00 227.23 L530.12 227.11 L530.25 226.99 L530.38 226.87 L530.50 226.74 L530.63 226.62 L530.76 226.50 L530.88 226.38 L531.01 226.26 L531.13 226.14 L531.26 226.02 L531.39 225.89 L531.51 225.77 L531.64 225.65 L531.77 225.53 L531.89 225.41 L532.02 225.29 L532.14 225.16 L532.27 225.04 L532.40 224.92 L532.52 224.80 L532.65 224.68 L532.78 224.56 L532.90 224.44 L533.03 224.56 L533.15 225.04 L533.28 225.52 L533.41 226.01 L533.53 226.49 L533.66 226.98 L533.79 227.46 L533.91 227.95 L534.04 228.19 L534.16 228.07 L534.29 227.95 L534.42 227.82 L534.54 227.70 L534.67 227.58 L534.80 227.46 L534.92 227.34 L535.05 227.22 L535.17 227.10 L535.30 226.97 L535.43 226.85 L535.55 226.73 L535.68 226.61 L535.81 226.49 L535.93 226.37 L536.06 226.25 L536.18 226.12 L536.31 226.00 L536.44 225.88 L536.56 225.76 L536.69 225.64 L536.82 225.52 L536.94 225.40 L537.07 225.28 L537.19 225.15 L537.32 225.03 L537.45 224.91 L537.57 224.79 L537.70 224.67 L537.83 224.55 L537.95 224.43 L538.08 224.55 L538.20 225.03 L538.33 225.52 L538.46 226.00 L538.58 226.48 L538.71 226.97 L538.84 227.45 L538.96 227.94 L539.09 228.18 L539.21 228.06 L539.34 227.94 L539.47 227.82 L539.59 227.69 L539.72 227.57 L539.85 227.45 L539.97 227.33 L540.10 227.21 L540.22 227.09 L540.35 226.97 L540.48 226.85 L540.60 226.72 L540.73 226.60 L540.86 226.48 L540.98 226.36 L541.11 226.24 L541.24 226.12 L541.36 226.00 L541.49 225.88 L541.61 225.76 L541.74 225.63 L541.87 225.51 L541.99 225.39 L542.12 225.27 L542.25 225.15 L542.37 225.03 L542.50 224.91 L542.62 224.79 L542.75 224.66 L542.88 224.54 L543.00 224.42 L543.13 224.54 L543.25 225.03 L543.38 225.51 L543.51 226.00 L543.63 226.48 L543.76 226.97 L543.89 227.45 L544.01 227.94 L544.14 228.18 L544.26 228.06 L544.39 227.94 L544.52 227.81 L544.64 227.69 L544.77 227.57 L544.90 227.45 L545.02 227.33 L545.15 227.21 L545.27 227.09 L545.40 226.97 L545.53 226.85 L545.65 226.72 L545.78 226.60 L545.91 226.48 L546.03 226.36 L546.16 226.24 L546.28 226.12 L546.41 226.00 L546.54 225.88 L546.66 225.76 L546.79 225.63 L546.92 225.51 L547.04 225.39 L547.17 225.27 L547.30 225.15 L547.42 225.03 L547.55 224.91 L547.67 224.79 L547.80 224.66 L547.93 224.54 L548.05 224.42 L548.18 224.54 L548.31 225.03 L548.43 225.51 L548.56 226.00 L548.68 226.48 L548.81 226.97 L548.94 227.45 L549.06 227.94 L549.19 228.18 L549.32 228.06 L549.44 227.94 L549.57 227.81 L549.69 227.69 L549.82 227.57 L549.95 227.45 L550.07 227.33 L550.20 227.21 L550.33 227.09 L550.45 226.97 L550.58 226.85 L550.70 226.72 L550.83 226.60 L550.96 226.48 L551.08 226.36 L551.21 226.24 L551.34 226.12 L551.46 226.00 L551.59 225.88 L551.71 225.76 L551.84 225.63 L551.97 225.51 L552.09 225.39 L552.22 225.27 L552.35 225.15 L552.47 225.03 L552.60 224.91 L552.72 224.79 L552.85 224.66 L552.98 224.54 L553.10 224.42 L553.23 224.54 L553.36 225.03 L553.48 225.51 L553.61 226.00 L553.73 226.48 L553.86 226.97 L553.99 227.45 L554.11 227.94 L554.24 228.18 L554.37 228.06 L554.49 227.94 L554.62 227.81 L554.74 227.69 L554.87 227.57 L555.00 227.45 L555.12 227.33 L555.25 227.21 L555.38 227.09 L555.50 226.97 L555.63 226.85 L555.75 226.72 L555.88 226.60 L556.01 226.48 L556.13 226.36 L556.26 226.24 L556.38 226.12 L556.51 226.00 L556.64 225.88 L556.76 225.76 L556.89 225.63 L557.02 225.51 L557.14 225.39 L557.27 225.27 L557.39 225.15 L557.52 225.03 L557.65 224.91 L557.77 224.79 L557.90 224.66 L558.03 224.54 L558.15 224.42 L558.28 224.54 L558.40 225.03 L558.53 225.51 L558.66 226.00 L558.78 226.48 L558.91 226.97 L559.04 227.45 L559.16 227.94 L559.29 228.18 L559.41 228.06 L559.54 227.94 L559.67 227.81 L559.79 227.69 L559.92 227.57 L560.05 227.45 L560.17 227.33 L560.30 227.21 L560.42 227.09 L560.55 226.97 L560.68 226.85 L560.80 226.72 L560.93 226.60 L561.06 226.48 L561.18 226.36 L561.31 226.24 L561.43 226.12 L561.56 226.00 L561.69 225.88 L561.81 225.76 L561.94 225.63 L562.07 225.51 L562.19 225.39 L562.32 225.27 L562.44 225.15 L562.57 225.03 L562.70 224.91 L562.82 224.79 L562.95 224.66 L563.08 224.54 L563.20 224.42 L563.33 224.54 L563.45 225.03 L563.58 225.51 L563.71 226.00 L563.83 226.48 L563.96 226.97 L564.09 227.45 L564.21 227.94 L564.34 228.18 L564.47 228.06 L564.59 227.94 L564.72 227.81 L564.84 227.69 L564.97 227.57 L565.10 227.45 L565.22 227.33 L565.35 227.21 L565.48 227.09 L565.60 226.97 L565.73 226.85 L565.85 226.72 L565.98 226.60 L566.11 226.48 L566.23 226.36 L566.36 226.24 L566.49 226.12 L566.61 226.00 L566.74 225.88 L566.86 225.76 L566.99 225.63 L567.12 225.51 L567.24 225.39 L567.37 225.27 L567.50 225.15 L567.62 225.03 L567.75 224.91 L567.87 224.79 L568.00 224.66 L568.13 224.54 L568.25 224.42 L568.38 224.54 L568.50 225.03 L568.63 225.51 L568.76 226.00 L568.88 226.48 L569.01 226.97 L569.14 227.45 L569.26 227.94 L569.39 228.18 L569.51 228.06 L569.64 227.94 L569.77 227.81 L569.89 227.69 L570.02 227.57 L570.15 227.45 L570.27 227.33 L570.40 227.21 L570.53 227.09 L570.65 226.97 L570.78 226.85 L570.90 226.72 L571.03 226.60 L571.16 226.48 L571.28 226.36 L571.41 226.24 L571.54 226.12 L571.66 226.00 L571.79 225.88 L571.91 225.76 L572.04 225.63 L572.17 225.51 L572.29 225.39 L572.42 225.27 L572.55 225.15 L572.67 225.03 L572.80 224.91 L572.92 224.79 L573.05 224.66 L573.18 224.54 L573.30 224.42 L573.43 224.54 L573.56 225.03 L573.68 225.51 L573.81 226.00 L573.93 226.48 L574.06 226.97 L574.19 227.45 L574.31 227.94 L574.44 228.18 L574.57 228.06 L574.69 227.94 L574.82 227.81 L574.94 227.69 L575.07 227.57 L575.20 227.45 L575.32 227.33 L575.45 227.21 L575.58 227.09 L575.70 226.97 L575.83 226.85 L575.95 226.72 L576.08 226.60 L576.21 226.48 L576.33 226.36 L576.46 226.24 L576.59 226.12 L576.71 226.00 L576.84 225.88 L576.96 225.76 L577.09 225.63 L577.22 225.51 L577.34 225.39 L577.47 225.27 L577.60 225.15 L577.72 225.03 L577.85 224.91 L577.97 224.79 L578.10 224.66 L578.23 224.54 L578.35 224.42 L578.48 224.54 L578.61 225.03 L578.73 225.51 L578.86 226.00 L578.98 226.48 L579.11 226.97 L579.24 227.45 L579.36 227.94 L579.49 228.18 L579.62 228.06 L579.74 227.94 L579.87 227.81 L579.99 227.69 L580.12 227.57 L580.25 227.45 L580.37 227.33 L580.50 227.21 L580.62 227.09 L580.75 226.97 L580.88 226.85 L581.00 226.72 L581.13 226.60 L581.26 226.48 L581.38 226.36 L581.51 226.24 L581.63 226.12 L581.76 226.00 L581.89 225.88 L582.01 225.76 L582.14 225.63 L582.27 225.51 L582.39 225.39 L582.52 225.27 L582.64 225.15 L582.77 225.03 L582.90 224.91 L583.02 224.79 L583.15 224.66 L583.28 224.54 L583.40 224.42 L583.53 224.54 L583.65 225.03 L583.78 225.51 L583.91 226.00 L584.03 226.48 L584.16 226.97 L584.29 227.45 L584.41 227.94 L584.54 228.18 L584.66 228.06 L584.79 227.94 L584.92 227.81 L585.04 227.69 L585.17 227.57 L585.30 227.45 L585.42 227.33 L585.55 227.21 L585.67 227.09 L585.80 226.97 L585.93 226.85 L586.05 226.72 L586.18 226.60 L586.31 226.48 L586.43 226.36 L586.56 226.24 L586.68 226.12 L586.81 226.00 L586.94 225.88 L587.06 225.76 L587.19 225.63 L587.32 225.51 L587.44 225.39 L587.57 225.27 L587.70 225.15 L587.82 225.03 L587.95 224.91 L588.07 224.79 L588.20 224.66 L588.33 224.54 L588.45 224.42 L588.58 224.54 L588.71 225.03 L588.83 225.51 L588.96 226.00 L589.08 226.48 L589.21 226.97 L589.34 227.45 L589.46 227.94 L589.59 228.18 L589.72 228.06 L589.84 227.94 L589.97 227.81 L590.09 227.69 L590.22 227.57 L590.35 227.45 L590.47 227.33 L590.60 227.21 L590.73 227.09 L590.85 226.97 L590.98 226.85 L591.10 226.72 L591.23 226.60 L591.36 226.48 L591.48 226.36 L591.61 226.24 L591.74 226.12 L591.86 226.00 L591.99 225.88 L592.11 225.76 L592.24 225.63 L592.37 225.51 L592.49 225.39 L592.62 225.27 L592.75 225.15 L592.87 225.03 L593.00 224.91 L593.12 224.79 L593.25 224.66 L593.38 224.54 L593.50 224.42 L593.63 224.54 L593.76 225.03 L593.88 225.51 L594.01 226.00 L594.13 226.48 L594.26 226.97 L594.39 227.45 L594.51 227.94 L594.64 228.18 L594.77 228.06 L594.89 227.94 L595.02 227.81 L595.14 227.69 L595.27 227.57 L595.40 227.45 L595.52 227.33 L595.65 227.21 L595.78 227.09 L595.90 226.97 L596.03 226.85 L596.15 226.72 L596.28 226.60 L596.41 226.48 L596.53 226.36 L596.66 226.24 L596.79 226.12 L596.91 226.00 L597.04 225.88 L597.16 225.76 L597.29 225.63 L597.42 225.51 L597.54 225.39 L597.67 225.27 L597.80 225.15 L597.92 225.03 L598.05 224.91 L598.17 224.79 L598.30 224.66 L598.43 224.54 L598.55 224.42 L598.68 224.54 L598.81 225.03 L598.93 225.51 L599.06 226.00 L599.18 226.48 L599.31 226.97 L599.44 227.45 L599.56 227.94 L599.69 228.18 L599.82 228.06 L599.94 227.94 L600.07 227.81 L600.19 227.69 L600.32 227.57 L600.45 227.45 L600.57 227.33 L600.70 227.21 L600.83 227.09 L600.95 226.97 L601.08 226.85 L601.20 226.72 L601.33 226.60 L601.46 226.48 L601.58 226.36 L601.71 226.24 L601.84 226.12 L601.96 226.00 L602.09 225.88 L602.21 225.76 L602.34 225.63 L602.47 225.51 L602.59 225.39 L602.72 225.27 L602.85 225.15 L602.97 225.03 L603.10 224.91 L603.22 224.79 L603.35 224.66 L603.48 224.54 L603.60 224.42 L603.73 224.54 L603.86 225.03 L603.98 225.51 L604.11 226.00 L604.23 226.48 L604.36 226.97 L604.49 227.45 L604.61 227.94 L604.74 228.18 L604.87 228.06 L604.99 227.94 L605.12 227.81 L605.24 227.69 L605.37 227.57 L605.50 227.45 L605.62 227.33 L605.75 227.21 L605.88 227.09 L606.00 226.97 L606.13 226.85 L606.25 226.72 L606.38 226.60 L606.51 226.48 L606.63 226.36 L606.76 226.24 L606.88 226.12 L607.01 226.00 L607.14 225.88 L607.26 225.76 L607.39 225.63 L607.52 225.51 L607.64 225.39 L607.77 225.27 L607.89 225.15 L608.02 225.03 L608.15 224.91 L608.27 224.79 L608.40 224.66 L608.53 224.54 L608.65 224.42 L608.78 224.54 L608.90 225.03 L609.03 225.51 L609.16 226.00 L609.28 226.48 L609.41 226.97 L609.54 227.45 L609.66 227.94 L609.79 228.18 L609.91 228.06 L610.04 227.94 L610.17 227.81 L610.29 227.69 L610.42 227.57 L610.55 227.45 L610.67 227.33 L610.80 227.21 L610.92 227.09 L611.05 226.97 L611.18 226.85 L611.30 226.72 L611.43 226.60 L611.56 226.48 L611.68 226.36 L611.81 226.24 L611.93 226.12 L612.06 226.00 L612.19 225.88 L612.31 225.76 L612.44 225.63 L612.57 225.51 L612.69 225.39 L612.82 225.27 L612.94 225.15 L613.07 225.03 L613.20 224.91 L613.32 224.79 L613.45 224.66 L613.58 224.54 L613.70 224.42 L613.83 224.54 L613.95 225.03 L614.08 225.51 L614.21 226.00 L614.33 226.48 L614.46 226.97 L614.59 227.45 L614.71 227.94 L614.84 228.18 L614.96 228.06 L615.09 227.94 L615.22 227.81 L615.34 227.69 L615.47 227.57 L615.60 227.45 L615.72 227.33 L615.85 227.21 L615.98 227.09 L616.10 226.97 L616.23 226.85 L616.35 226.72 L616.48 226.60 L616.61 226.48 L616.73 226.36 L616.86 226.24 L616.99 226.12 L617.11 226.00 L617.24 225.88 L617.36 225.76 L617.49 225.63 L617.62 225.51 L617.74 225.39 L617.87 225.27 L618.00 225.15 L618.12 225.03 L618.25 224.91 L618.37 224.79 L618.50 224.66" fill="none" stroke="#0072BD" stroke-width="1.25" stroke-linejoin="round"/>
<path d="M163.50 335.5 v-5.5 M163.50 221.5 v5.5" stroke="#262626" stroke-width="1" fill="none"/>
<path d="M214.50 335.5 v-5.5 M214.50 221.5 v5.5" stroke="#262626" stroke-width="1" fill="none"/>
<path d="M264.50 335.5 v-5.5 M264.50 221.5 v5.5" stroke="#262626" stroke-width="1" fill="none"/>
<path d="M315.50 335.5 v-5.5 M315.50 221.5 v5.5" stroke="#262626" stroke-width="1" fill="none"/>
<path d="M366.50 335.5 v-5.5 M366.50 221.5 v5.5" stroke="#262626" stroke-width="1" fill="none"/>
<path d="M416.50 335.5 v-5.5 M416.50 221.5 v5.5" stroke="#262626" stroke-width="1" fill="none"/>
<path d="M467.50 335.5 v-5.5 M467.50 221.5 v5.5" stroke="#262626" stroke-width="1" fill="none"/>
<path d="M517.50 335.5 v-5.5 M517.50 221.5 v5.5" stroke="#262626" stroke-width="1" fill="none"/>
<path d="M568.50 335.5 v-5.5 M568.50 221.5 v5.5" stroke="#262626" stroke-width="1" fill="none"/>
<path d="M113.5 278.50 h5.5 M618.5 278.50 h-5.5" stroke="#262626" stroke-width="1" fill="none"/>
<rect x="113.5" y="221.5" width="505.0" height="114.0" fill="none" stroke="#262626" stroke-width="1"/>
<text x="113.50" y="352.60" font-size="11.9" fill="#262626" text-anchor="middle">-1</text>
<text x="164.00" y="352.60" font-size="11.9" fill="#262626" text-anchor="middle">-0.8</text>
<text x="214.50" y="352.60" font-size="11.9" fill="#262626" text-anchor="middle">-0.6</text>
<text x="265.00" y="352.60" font-size="11.9" fill="#262626" text-anchor="middle">-0.4</text>
<text x="315.50" y="352.60" font-size="11.9" fill="#262626" text-anchor="middle">-0.2</text>
<text x="366.00" y="352.60" font-size="11.9" fill="#262626" text-anchor="middle">0</text>
<text x="416.50" y="352.60" font-size="11.9" fill="#262626" text-anchor="middle">0.2</text>
<text x="467.00" y="352.60" font-size="11.9" fill="#262626" text-anchor="middle">0.4</text>
<text x="517.50" y="352.60" font-size="11.9" fill="#262626" text-anchor="middle">0.6</text>
<text x="568.00" y="352.60" font-size="11.9" fill="#262626" text-anchor="middle">0.8</text>
<text x="618.50" y="352.60" font-size="11.9" fill="#262626" text-anchor="middle">1</text>
<text x="108.8" y="340.90" font-size="11.9" fill="#262626" text-anchor="end">0</text>
<text x="108.8" y="283.90" font-size="11.9" fill="#262626" text-anchor="end">5</text>
<text x="108.8" y="225.60" font-size="11.9" fill="#262626" text-anchor="end">10</text>
<text transform="translate(90.0 278.6) rotate(-90)" font-size="13.3" fill="#262626" text-anchor="middle">voltage [V]</text>
<rect x="113.5" y="382.5" width="244.40" height="2.8" fill="#0072BD"/>
<rect x="357.9" y="494.2" width="261.60" height="1.8" fill="#0072BD"/>
<path d="M113.50 383.27 L115.30 383.27 L115.30 494.96 L116.20 494.96 L116.20 383.27 L120.35 383.27 L120.35 494.96 L121.25 494.96 L121.25 383.27 L125.40 383.27 L125.40 494.96 L126.30 494.96 L126.30 383.27 L130.44 383.27 L130.44 494.96 L131.34 494.96 L131.34 383.27 L135.49 383.27 L135.49 494.96 L136.39 494.96 L136.39 383.27 L140.54 383.27 L140.54 494.96 L141.44 494.96 L141.44 383.27 L145.59 383.27 L145.59 494.96 L146.49 494.96 L146.49 383.27 L150.64 383.27 L150.64 494.96 L151.54 494.96 L151.54 383.27 L155.68 383.27 L155.68 494.96 L156.58 494.96 L156.58 383.27 L160.73 383.27 L160.73 494.96 L161.63 494.96 L161.63 383.27 L165.78 383.27 L165.78 494.96 L166.68 494.96 L166.68 383.27 L170.83 383.27 L170.83 494.96 L171.73 494.96 L171.73 383.27 L175.88 383.27 L175.88 494.96 L176.78 494.96 L176.78 383.27 L180.92 383.27 L180.92 494.96 L181.82 494.96 L181.82 383.27 L185.97 383.27 L185.97 494.96 L186.87 494.96 L186.87 383.27 L191.02 383.27 L191.02 494.96 L191.92 494.96 L191.92 383.27 L196.07 383.27 L196.07 494.96 L196.97 494.96 L196.97 383.27 L201.12 383.27 L201.12 494.96 L202.02 494.96 L202.02 383.27 L206.16 383.27 L206.16 494.96 L207.06 494.96 L207.06 383.27 L211.21 383.27 L211.21 494.96 L212.11 494.96 L212.11 383.27 L216.26 383.27 L216.26 494.96 L217.16 494.96 L217.16 383.27 L221.31 383.27 L221.31 494.96 L222.21 494.96 L222.21 383.27 L226.36 383.27 L226.36 494.96 L227.26 494.96 L227.26 383.27 L231.40 383.27 L231.40 494.96 L232.30 494.96 L232.30 383.27 L236.45 383.27 L236.45 494.96 L237.35 494.96 L237.35 383.27 L241.50 383.27 L241.50 494.96 L242.40 494.96 L242.40 383.27 L246.55 383.27 L246.55 494.96 L247.45 494.96 L247.45 383.27 L251.60 383.27 L251.60 494.96 L252.50 494.96 L252.50 383.27 L256.64 383.27 L256.64 494.96 L257.54 494.96 L257.54 383.27 L261.69 383.27 L261.69 494.96 L262.59 494.96 L262.59 383.27 L266.74 383.27 L266.74 494.96 L267.64 494.96 L267.64 383.27 L271.79 383.27 L271.79 494.96 L272.69 494.96 L272.69 383.27 L276.84 383.27 L276.84 494.96 L277.74 494.96 L277.74 383.27 L281.88 383.27 L281.88 494.96 L282.78 494.96 L282.78 383.27 L286.93 383.27 L286.93 494.96 L287.83 494.96 L287.83 383.27 L291.98 383.27 L291.98 494.96 L292.88 494.96 L292.88 383.27 L297.03 383.27 L297.03 494.96 L297.93 494.96 L297.93 383.27 L302.08 383.27 L302.08 494.96 L302.98 494.96 L302.98 383.27 L307.12 383.27 L307.12 494.96 L308.02 494.96 L308.02 383.27 L312.17 383.27 L312.17 494.96 L313.07 494.96 L313.07 383.27 L317.22 383.27 L317.22 494.96 L318.12 494.96 L318.12 383.27 L322.27 383.27 L322.27 494.96 L323.17 494.96 L323.17 383.27 L327.32 383.27 L327.32 494.96 L328.22 494.96 L328.22 383.27 L332.36 383.27 L332.36 494.96 L333.26 494.96 L333.26 383.27 L337.41 383.27 L337.41 494.96 L338.31 494.96 L338.31 383.27 L342.46 383.27 L342.46 494.96 L343.36 494.96 L343.36 383.27 L347.51 383.27 L347.51 494.96 L348.41 494.96 L348.41 383.27 L352.56 383.27 L352.56 494.96 L353.46 494.96 L353.46 383.27 L357.90 383.27 L357.90 494.61 L361.15 494.61 L361.65 481.18 L361.77 382.19 L362.53 382.19 L362.65 481.18 L363.15 494.61 L366.22 494.61 L366.72 481.18 L366.84 382.19 L367.60 382.19 L367.72 481.18 L368.22 494.61 L371.29 494.61 L371.79 481.18 L371.91 382.19 L372.67 382.19 L372.79 481.18 L373.29 494.61 L376.36 494.61 L376.86 481.18 L376.98 382.19 L377.74 382.19 L377.86 481.18 L378.36 494.61 L381.43 494.61 L381.93 481.18 L382.05 382.19 L382.81 382.19 L382.93 481.18 L383.43 494.61 L386.50 494.61 L387.00 481.18 L387.12 382.19 L387.88 382.19 L388.00 481.18 L388.50 494.61 L391.57 494.61 L392.07 481.18 L392.19 382.19 L392.95 382.19 L393.07 481.18 L393.57 494.61 L396.64 494.61 L397.14 481.18 L397.26 382.19 L398.02 382.19 L398.14 481.18 L398.64 494.61 L401.71 494.61 L402.21 481.18 L402.33 382.19 L403.09 382.19 L403.21 481.18 L403.71 494.61 L406.78 494.61 L407.28 481.18 L407.40 382.19 L408.16 382.19 L408.28 481.18 L408.78 494.61 L411.85 494.61 L412.35 481.18 L412.47 382.19 L413.23 382.19 L413.35 481.18 L413.85 494.61 L416.92 494.61 L417.42 481.18 L417.54 382.19 L418.30 382.19 L418.42 481.18 L418.92 494.61 L421.99 494.61 L422.49 481.18 L422.61 382.19 L423.37 382.19 L423.49 481.18 L423.99 494.61 L427.06 494.61 L427.56 481.18 L427.68 382.19 L428.44 382.19 L428.56 481.18 L429.06 494.61 L432.13 494.61 L432.63 481.18 L432.75 382.19 L433.51 382.19 L433.63 481.18 L434.13 494.61 L437.20 494.61 L437.70 481.18 L437.82 382.19 L438.58 382.19 L438.70 481.18 L439.20 494.61 L442.27 494.61 L442.77 481.18 L442.89 382.19 L443.65 382.19 L443.77 481.18 L444.27 494.61 L447.34 494.61 L447.84 481.18 L447.96 382.19 L448.72 382.19 L448.84 481.18 L449.34 494.61 L452.41 494.61 L452.91 481.18 L453.03 382.19 L453.79 382.19 L453.91 481.18 L454.41 494.61 L457.48 494.61 L457.98 481.18 L458.10 382.19 L458.86 382.19 L458.98 481.18 L459.48 494.61 L462.55 494.61 L463.05 481.18 L463.17 382.19 L463.93 382.19 L464.05 481.18 L464.55 494.61 L467.62 494.61 L468.12 481.18 L468.24 382.19 L469.00 382.19 L469.12 481.18 L469.62 494.61 L472.69 494.61 L473.19 481.18 L473.31 382.19 L474.07 382.19 L474.19 481.18 L474.69 494.61 L477.76 494.61 L478.26 481.18 L478.38 382.19 L479.14 382.19 L479.26 481.18 L479.76 494.61 L482.83 494.61 L483.33 481.18 L483.45 382.19 L484.21 382.19 L484.33 481.18 L484.83 494.61 L487.90 494.61 L488.40 481.18 L488.52 382.19 L489.28 382.19 L489.40 481.18 L489.90 494.61 L492.97 494.61 L493.47 481.18 L493.59 382.19 L494.35 382.19 L494.47 481.18 L494.97 494.61 L498.04 494.61 L498.54 481.18 L498.66 382.19 L499.42 382.19 L499.54 481.18 L500.04 494.61 L503.11 494.61 L503.61 481.18 L503.73 382.19 L504.49 382.19 L504.61 481.18 L505.11 494.61 L508.18 494.61 L508.68 481.18 L508.80 382.19 L509.56 382.19 L509.68 481.18 L510.18 494.61 L513.25 494.61 L513.75 481.18 L513.87 382.19 L514.63 382.19 L514.75 481.18 L515.25 494.61 L518.32 494.61 L518.82 481.18 L518.94 382.19 L519.70 382.19 L519.82 481.18 L520.32 494.61 L523.39 494.61 L523.89 481.18 L524.01 382.19 L524.77 382.19 L524.89 481.18 L525.39 494.61 L528.46 494.61 L528.96 481.18 L529.08 382.19 L529.84 382.19 L529.96 481.18 L530.46 494.61 L533.53 494.61 L534.03 481.18 L534.15 382.19 L534.91 382.19 L535.03 481.18 L535.53 494.61 L538.60 494.61 L539.10 481.18 L539.22 382.19 L539.98 382.19 L540.10 481.18 L540.60 494.61 L543.67 494.61 L544.17 481.18 L544.29 382.19 L545.05 382.19 L545.17 481.18 L545.67 494.61 L548.74 494.61 L549.24 481.18 L549.36 382.19 L550.12 382.19 L550.24 481.18 L550.74 494.61 L553.81 494.61 L554.31 481.18 L554.43 382.19 L555.19 382.19 L555.31 481.18 L555.81 494.61 L558.88 494.61 L559.38 481.18 L559.50 382.19 L560.26 382.19 L560.38 481.18 L560.88 494.61 L563.95 494.61 L564.45 481.18 L564.57 382.19 L565.33 382.19 L565.45 481.18 L565.95 494.61 L569.02 494.61 L569.52 481.18 L569.64 382.19 L570.40 382.19 L570.52 481.18 L571.02 494.61 L574.09 494.61 L574.59 481.18 L574.71 382.19 L575.47 382.19 L575.59 481.18 L576.09 494.61 L579.16 494.61 L579.66 481.18 L579.78 382.19 L580.54 382.19 L580.66 481.18 L581.16 494.61 L584.23 494.61 L584.73 481.18 L584.85 382.19 L585.61 382.19 L585.73 481.18 L586.23 494.61 L589.30 494.61 L589.80 481.18 L589.92 382.19 L590.68 382.19 L590.80 481.18 L591.30 494.61 L594.37 494.61 L594.87 481.18 L594.99 382.19 L595.75 382.19 L595.87 481.18 L596.37 494.61 L599.44 494.61 L599.94 481.18 L600.06 382.19 L600.82 382.19 L600.94 481.18 L601.44 494.61 L604.51 494.61 L605.01 481.18 L605.13 382.19 L605.89 382.19 L606.01 481.18 L606.51 494.61 L609.58 494.61 L610.08 481.18 L610.20 382.19 L610.96 382.19 L611.08 481.18 L611.58 494.61 L614.65 494.61 L615.15 481.18 L615.27 382.19 L616.03 382.19 L616.15 481.18 L616.65 494.61 L618.50 494.61" fill="none" stroke="#0072BD" stroke-width="1.1" stroke-linejoin="miter"/>
<path d="M163.50 496.5 v-5.5 M163.50 381.5 v5.5" stroke="#262626" stroke-width="1" fill="none"/>
<path d="M214.50 496.5 v-5.5 M214.50 381.5 v5.5" stroke="#262626" stroke-width="1" fill="none"/>
<path d="M264.50 496.5 v-5.5 M264.50 381.5 v5.5" stroke="#262626" stroke-width="1" fill="none"/>
<path d="M315.50 496.5 v-5.5 M315.50 381.5 v5.5" stroke="#262626" stroke-width="1" fill="none"/>
<path d="M366.50 496.5 v-5.5 M366.50 381.5 v5.5" stroke="#262626" stroke-width="1" fill="none"/>
<path d="M416.50 496.5 v-5.5 M416.50 381.5 v5.5" stroke="#262626" stroke-width="1" fill="none"/>
<path d="M467.50 496.5 v-5.5 M467.50 381.5 v5.5" stroke="#262626" stroke-width="1" fill="none"/>
<path d="M517.50 496.5 v-5.5 M517.50 381.5 v5.5" stroke="#262626" stroke-width="1" fill="none"/>
<path d="M568.50 496.5 v-5.5 M568.50 381.5 v5.5" stroke="#262626" stroke-width="1" fill="none"/>
<path d="M113.5 388.50 h5.5 M618.5 388.50 h-5.5" stroke="#262626" stroke-width="1" fill="none"/>
<path d="M113.5 423.50 h5.5 M618.5 423.50 h-5.5" stroke="#262626" stroke-width="1" fill="none"/>
<path d="M113.5 459.50 h5.5 M618.5 459.50 h-5.5" stroke="#262626" stroke-width="1" fill="none"/>
<path d="M113.5 495.50 h5.5 M618.5 495.50 h-5.5" stroke="#262626" stroke-width="1" fill="none"/>
<rect x="113.5" y="381.5" width="505.0" height="115.0" fill="none" stroke="#262626" stroke-width="1"/>
<text x="113.50" y="514.00" font-size="11.9" fill="#262626" text-anchor="middle">-1</text>
<text x="164.00" y="514.00" font-size="11.9" fill="#262626" text-anchor="middle">-0.8</text>
<text x="214.50" y="514.00" font-size="11.9" fill="#262626" text-anchor="middle">-0.6</text>
<text x="265.00" y="514.00" font-size="11.9" fill="#262626" text-anchor="middle">-0.4</text>
<text x="315.50" y="514.00" font-size="11.9" fill="#262626" text-anchor="middle">-0.2</text>
<text x="366.00" y="514.00" font-size="11.9" fill="#262626" text-anchor="middle">0</text>
<text x="416.50" y="514.00" font-size="11.9" fill="#262626" text-anchor="middle">0.2</text>
<text x="467.00" y="514.00" font-size="11.9" fill="#262626" text-anchor="middle">0.4</text>
<text x="517.50" y="514.00" font-size="11.9" fill="#262626" text-anchor="middle">0.6</text>
<text x="568.00" y="514.00" font-size="11.9" fill="#262626" text-anchor="middle">0.8</text>
<text x="618.50" y="514.00" font-size="11.9" fill="#262626" text-anchor="middle">1</text>
<text x="108.8" y="393.50" font-size="11.9" fill="#262626" text-anchor="end">0</text>
<text x="108.8" y="429.30" font-size="11.9" fill="#262626" text-anchor="end">-2</text>
<text x="108.8" y="465.30" font-size="11.9" fill="#262626" text-anchor="end">-4</text>
<text x="108.8" y="500.40" font-size="11.9" fill="#262626" text-anchor="end">-6</text>
<text transform="translate(92.5 439.5) rotate(-90)" font-size="13.3" fill="#262626" text-anchor="middle">voltage [V]</text>
<text x="366" y="530.9" font-size="13.3" fill="#262626" text-anchor="middle">time [ms]</text>
<text x="365.6" y="54.5" font-size="13.2" font-weight="bold" fill="#000" text-anchor="middle">IO334 Buck Converter: Measured Analog Output Signals</text>
<rect x="124.5" y="67.5" width="74.0" height="26.0" fill="#fff" stroke="#262626" stroke-width="1"/>
<path d="M128.4 80.50 H168.4" stroke="#0072BD" stroke-width="1.1" fill="none"/>
<text x="171.2" y="83.10" font-size="13" fill="#000">V</text>
<text x="180.1" y="88.70" font-size="10.6" fill="#000">out</text>
<rect x="124.5" y="228.5" width="152.0" height="26.0" fill="#fff" stroke="#262626" stroke-width="1"/>
<path d="M128.4 241.50 H168.4" stroke="#0072BD" stroke-width="1.1" fill="none"/>
<text x="171.2" y="244.10" font-size="13" fill="#000">I</text>
<text x="175.3" y="249.70" font-size="10.6" fill="#000">inductor</text>
<text x="217.1" y="244.10" font-size="13.15" fill="#000">(20mA/V)</text>
<rect x="124.5" y="388.5" width="192.0" height="26.0" fill="#fff" stroke="#262626" stroke-width="1"/>
<path d="M128.4 401.50 H168.4" stroke="#0072BD" stroke-width="1.1" fill="none"/>
<text x="171.2" y="404.10" font-size="13" fill="#000">V</text>
<text x="179.9" y="409.70" font-size="10.75" fill="#000">diode</text>
<text x="211.0" y="404.10" font-size="13.2" fill="#000">(scaling factor: 2)</text>
</svg>
</body></html>
